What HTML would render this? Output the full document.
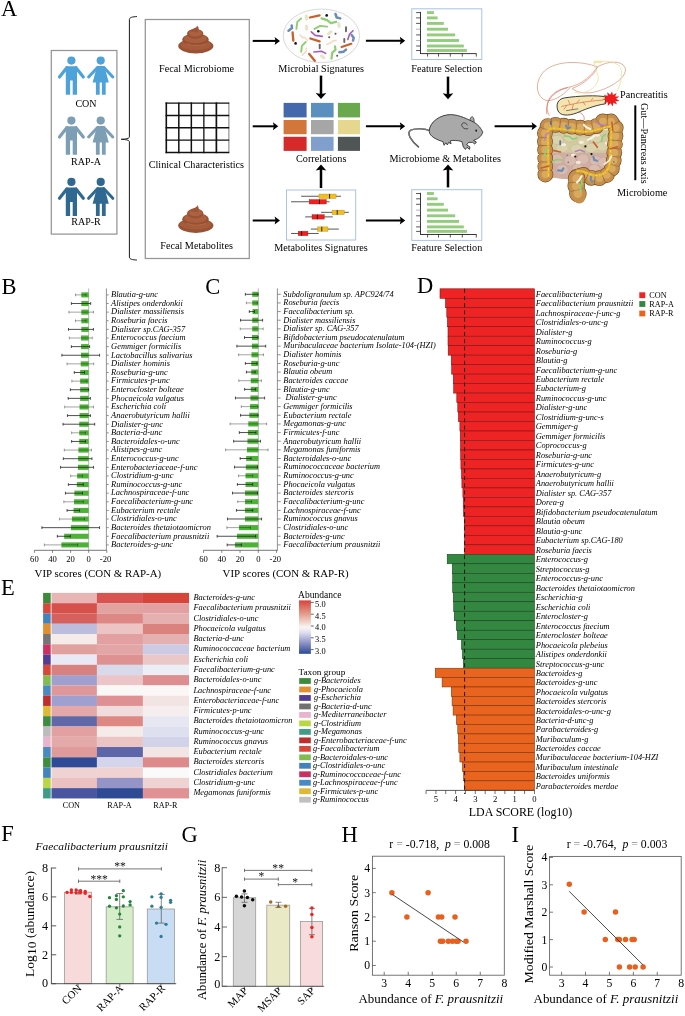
<!DOCTYPE html>
<html lang="en"><head><meta charset="utf-8"><title>Figure</title>
<style>html,body{margin:0;padding:0;background:#fff}svg{display:block;will-change:transform}text{font-family:"Liberation Serif","Times New Roman",serif}</style></head><body>
<svg width="685" height="1016" viewBox="0 0 685 1016">
<rect width="685" height="1016" fill="#fff"/>
<text x="1.10" y="15.80" font-size="22.5" text-anchor="start" fill="#000">A</text>
<rect x="51.30" y="50.50" width="65.60" height="183.60" fill="none" stroke="#959595" stroke-width="1.25"/>
<g fill="#4ea2da" stroke="#4ea2da">
<circle cx="71.4" cy="60.6" r="4.1" stroke="none"/>
<path d="M65.80000000000001,66.2 h11.2 v28.6 h-4.3 v-14.2 h-2.6 v14.2 h-4.3 Z" stroke="none"/>
<path d="M66.80000000000001,67.8 L59.50000000000001,77.0 M76.0,67.8 L83.30000000000001,77.0" fill="none" stroke-width="3.2" stroke-linecap="round"/>
</g>
<g fill="#4ea2da" stroke="#4ea2da">
<circle cx="100.7" cy="60.6" r="4.1" stroke="none"/>
<path d="M97.10000000000001,66.0 h7.2 L108.8,82.4 h-16.2 Z" stroke="none"/>
<path d="M95.9,81.6 h3.8 v13.2 h-3.8 Z M101.9,81.6 h3.8 v13.2 h-3.8 Z" stroke="none"/>
<path d="M97.5,67.4 L88.60000000000001,77.0 M103.9,67.4 L112.8,77.0" fill="none" stroke-width="3.0" stroke-linecap="round"/>
</g>
<text x="86.00" y="107.00" font-size="10" text-anchor="middle" fill="#000">CON</text>
<g fill="#7d9fb6" stroke="#7d9fb6">
<circle cx="71.4" cy="120.6" r="4.1" stroke="none"/>
<path d="M65.80000000000001,126.19999999999999 h11.2 v28.6 h-4.3 v-14.2 h-2.6 v14.2 h-4.3 Z" stroke="none"/>
<path d="M66.80000000000001,127.8 L59.50000000000001,137.0 M76.0,127.8 L83.30000000000001,137.0" fill="none" stroke-width="3.2" stroke-linecap="round"/>
</g>
<g fill="#7d9fb6" stroke="#7d9fb6">
<circle cx="100.7" cy="120.6" r="4.1" stroke="none"/>
<path d="M97.10000000000001,126.0 h7.2 L108.8,142.4 h-16.2 Z" stroke="none"/>
<path d="M95.9,141.6 h3.8 v13.2 h-3.8 Z M101.9,141.6 h3.8 v13.2 h-3.8 Z" stroke="none"/>
<path d="M97.5,127.39999999999999 L88.60000000000001,137.0 M103.9,127.39999999999999 L112.8,137.0" fill="none" stroke-width="3.0" stroke-linecap="round"/>
</g>
<text x="86.00" y="164.60" font-size="10" text-anchor="middle" fill="#000">RAP-A</text>
<g fill="#2f6991" stroke="#2f6991">
<circle cx="71.4" cy="181.9" r="4.1" stroke="none"/>
<path d="M65.80000000000001,187.5 h11.2 v28.6 h-4.3 v-14.2 h-2.6 v14.2 h-4.3 Z" stroke="none"/>
<path d="M66.80000000000001,189.1 L59.50000000000001,198.3 M76.0,189.1 L83.30000000000001,198.3" fill="none" stroke-width="3.2" stroke-linecap="round"/>
</g>
<g fill="#2f6991" stroke="#2f6991">
<circle cx="100.7" cy="181.9" r="4.1" stroke="none"/>
<path d="M97.10000000000001,187.3 h7.2 L108.8,203.70000000000002 h-16.2 Z" stroke="none"/>
<path d="M95.9,202.9 h3.8 v13.2 h-3.8 Z M101.9,202.9 h3.8 v13.2 h-3.8 Z" stroke="none"/>
<path d="M97.5,188.70000000000002 L88.60000000000001,198.3 M103.9,188.70000000000002 L112.8,198.3" fill="none" stroke-width="3.0" stroke-linecap="round"/>
</g>
<text x="86.00" y="225.40" font-size="10" text-anchor="middle" fill="#000">RAP-R</text>
<path d="M136.9,16.5 C132.5,16.9 129.4,17.2 129.4,19.6 L129.4,136.9 C129.4,138.6 125.5,139.1 121.2,139.3 C125.5,139.5 129.4,140 129.4,141.7 L129.4,257.0 C129.4,259.4 132.5,259.7 136.9,260.1" fill="none" stroke="#1a1a1a" stroke-width="1.0" stroke-linejoin="round"/>
<rect x="145.30" y="19.50" width="104.00" height="239.00" fill="none" stroke="#959595" stroke-width="1.25"/>
<g transform="translate(195.8,53.2)">
<ellipse cx="0" cy="-7.2" rx="17.6" ry="7.4" fill="#9a5234"/>
<ellipse cx="0" cy="-8.4" rx="15.5" ry="5.2" fill="#a65c3c"/>
<ellipse cx="-0.3" cy="-13.6" rx="13.2" ry="6.2" fill="#98502f"/>
<ellipse cx="-0.3" cy="-14.6" rx="11.6" ry="4.6" fill="#aa6040"/>
<ellipse cx="-0.6" cy="-19.3" rx="8.2" ry="5.0" fill="#9a5232"/>
<ellipse cx="-0.4" cy="-20.2" rx="6.6" ry="3.6" fill="#ac6242"/>
<path d="M-5.5,-21.5 C-4,-25.5 1.5,-24.5 1.2,-27.6 C3.2,-26.2 3.6,-22.5 1.8,-20.6 Z" fill="#9e5636"/>
<path d="M-9,-9.5 Q0,-5.8 10,-9.2" fill="none" stroke="#b87050" stroke-width="1.1" opacity=".7"/>
</g>
<text x="196.60" y="71.50" font-size="10.2" text-anchor="middle" fill="#000">Fecal Microbiome</text>
<line x1="166.30" y1="102.40" x2="166.30" y2="153.20" stroke="#111" stroke-width="1.6"/>
<line x1="178.82" y1="102.40" x2="178.82" y2="153.20" stroke="#111" stroke-width="1.5"/>
<line x1="191.34" y1="102.40" x2="191.34" y2="153.20" stroke="#111" stroke-width="1.5"/>
<line x1="203.86" y1="102.40" x2="203.86" y2="153.20" stroke="#111" stroke-width="1.3"/>
<line x1="216.38" y1="102.40" x2="216.38" y2="153.20" stroke="#111" stroke-width="1.7"/>
<line x1="228.90" y1="102.40" x2="228.90" y2="153.20" stroke="#444" stroke-width="0.7"/>
<line x1="165.60" y1="103.10" x2="229.20" y2="103.10" stroke="#111" stroke-width="1.4"/>
<line x1="165.60" y1="115.45" x2="229.20" y2="115.45" stroke="#111" stroke-width="1.4"/>
<line x1="165.60" y1="127.80" x2="229.20" y2="127.80" stroke="#111" stroke-width="1.4"/>
<line x1="165.60" y1="140.15" x2="229.20" y2="140.15" stroke="#111" stroke-width="1.4"/>
<line x1="165.60" y1="152.50" x2="229.20" y2="152.50" stroke="#111" stroke-width="1.4"/>
<text x="196.40" y="167.60" font-size="10.2" text-anchor="middle" fill="#000">Clinical Characteristics</text>
<g transform="translate(195.8,232.8)">
<ellipse cx="0" cy="-7.2" rx="17.6" ry="7.4" fill="#9a5234"/>
<ellipse cx="0" cy="-8.4" rx="15.5" ry="5.2" fill="#a65c3c"/>
<ellipse cx="-0.3" cy="-13.6" rx="13.2" ry="6.2" fill="#98502f"/>
<ellipse cx="-0.3" cy="-14.6" rx="11.6" ry="4.6" fill="#aa6040"/>
<ellipse cx="-0.6" cy="-19.3" rx="8.2" ry="5.0" fill="#9a5232"/>
<ellipse cx="-0.4" cy="-20.2" rx="6.6" ry="3.6" fill="#ac6242"/>
<path d="M-5.5,-21.5 C-4,-25.5 1.5,-24.5 1.2,-27.6 C3.2,-26.2 3.6,-22.5 1.8,-20.6 Z" fill="#9e5636"/>
<path d="M-9,-9.5 Q0,-5.8 10,-9.2" fill="none" stroke="#b87050" stroke-width="1.1" opacity=".7"/>
</g>
<text x="196.60" y="248.60" font-size="10.2" text-anchor="middle" fill="#000">Fecal Metabolites</text>
<line x1="252.70" y1="40.90" x2="277.00" y2="40.90" stroke="#000" stroke-width="2.0"/>
<path d="M280.00,40.90 L274.60,36.90 L275.60,40.90 L274.60,44.90 Z" fill="#000"/>
<line x1="252.70" y1="126.30" x2="275.30" y2="126.30" stroke="#000" stroke-width="2.0"/>
<path d="M278.30,126.30 L272.90,122.30 L273.90,126.30 L272.90,130.30 Z" fill="#000"/>
<line x1="252.70" y1="220.50" x2="277.00" y2="220.50" stroke="#000" stroke-width="2.0"/>
<path d="M280.00,220.50 L274.60,216.50 L275.60,220.50 L274.60,224.50 Z" fill="#000"/>
<ellipse cx="321.4" cy="35.8" rx="38.2" ry="26.8" fill="#fdfdfd" stroke="#cfcfcf" stroke-width="0.8"/>
<polyline points="309.9,17.5 319.6,15.4" fill="none" stroke="#c8602c" stroke-width="2.2" stroke-linecap="round" stroke-linejoin="round"/>
<polyline points="292.6,32.4 293.3,40.6" fill="none" stroke="#c8602c" stroke-width="2.3" stroke-linecap="round" stroke-linejoin="round"/>
<polyline points="310.4,38.5 319.6,41.3" fill="none" stroke="#c8602c" stroke-width="2.3" stroke-linecap="round" stroke-linejoin="round"/>
<polyline points="341.6,47.0 351.3,43.8" fill="none" stroke="#c8602c" stroke-width="2.2" stroke-linecap="round" stroke-linejoin="round"/>
<polyline points="309.2,54.0 314.8,60.8" fill="none" stroke="#c8602c" stroke-width="2.3" stroke-linecap="round" stroke-linejoin="round"/>
<polyline points="296.4,28.9 297.3,21.9 301.2,18.4" fill="none" stroke="#8fce74" stroke-width="1.9" stroke-linecap="round" stroke-linejoin="round"/>
<polyline points="321.5,18.4 327.1,20.1 330.9,23.1 336.2,21.9" fill="none" stroke="#8fce74" stroke-width="2.2" stroke-linecap="round" stroke-linejoin="round"/>
<polyline points="314.5,28.9 320.1,25.9 327.1,26.6" fill="none" stroke="#8fce74" stroke-width="1.9" stroke-linecap="round" stroke-linejoin="round"/>
<polyline points="301.2,51.7 301.9,45.9 305.7,42.0" fill="none" stroke="#8fce74" stroke-width="1.9" stroke-linecap="round" stroke-linejoin="round"/>
<polyline points="331.5,58.7 332.3,52.6 335.5,49.9 335.0,46.4" fill="none" stroke="#8fce74" stroke-width="2.2" stroke-linecap="round" stroke-linejoin="round"/>
<polyline points="311.3,31.9 315.2,35.4 322.2,36.4" fill="none" stroke="#a55cb8" stroke-width="1.6" stroke-linecap="round" stroke-linejoin="round"/>
<polyline points="347.8,39.4 349.5,34.2 353.0,30.7" fill="none" stroke="#a55cb8" stroke-width="1.6" stroke-linecap="round" stroke-linejoin="round"/>
<polyline points="313.9,52.0 321.5,51.2 325.7,53.4" fill="none" stroke="#a55cb8" stroke-width="1.6" stroke-linecap="round" stroke-linejoin="round"/>
<polyline points="288.5,30.7 292.0,28.0 291.7,25.4" fill="none" stroke="#6d8cb4" stroke-width="2.5" stroke-linecap="round" stroke-linejoin="round"/>
<polyline points="335.5,14.0 336.7,17.5 340.2,18.4" fill="none" stroke="#6d8cb4" stroke-width="2.5" stroke-linecap="round" stroke-linejoin="round"/>
<polyline points="351.6,35.0 353.7,37.7 353.0,40.6" fill="none" stroke="#6d8cb4" stroke-width="2.5" stroke-linecap="round" stroke-linejoin="round"/>
<polyline points="339.3,52.2 343.7,51.7 346.0,49.6" fill="none" stroke="#6d8cb4" stroke-width="2.5" stroke-linecap="round" stroke-linejoin="round"/>
<polyline points="299.9,35.0 302.6,37.7 304.3,37.1 307.5,40.6" fill="none" stroke="#f2d9bc" stroke-width="1.4" stroke-linecap="round" stroke-linejoin="round"/>
<polyline points="326.7,44.7 330.6,42.9 332.3,41.2 336.2,40.3" fill="none" stroke="#f2d9bc" stroke-width="1.4" stroke-linecap="round" stroke-linejoin="round"/>
<polyline points="302.2,55.2 305.7,51.7 306.4,48.2" fill="none" stroke="#f2d9bc" stroke-width="1.4" stroke-linecap="round" stroke-linejoin="round"/>
<polyline points="346.0,27.2 346.0,31.2" fill="none" stroke="#666" stroke-width="1.9" stroke-linecap="round" stroke-linejoin="round"/>
<polyline points="344.3,38.9 344.3,42.0" fill="none" stroke="#666" stroke-width="1.9" stroke-linecap="round" stroke-linejoin="round"/>
<polyline points="319.7,44.7 319.7,48.2" fill="none" stroke="#666" stroke-width="1.9" stroke-linecap="round" stroke-linejoin="round"/>
<circle cx="326.7" cy="15.4" r="1.3" fill="#111"/>
<circle cx="318.3" cy="31.2" r="1.3" fill="#111"/>
<circle cx="295.6" cy="43.4" r="1.3" fill="#111"/>
<circle cx="335.5" cy="33.8" r="1.0" fill="#555"/>
<circle cx="329.2" cy="37.3" r="1.0" fill="#555"/>
<circle cx="337.2" cy="55.7" r="1.0" fill="#555"/>
<ellipse cx="306.4" cy="17.5" rx="2.9" ry="1.3" fill="#ece4c8" stroke="#d8d0b0" stroke-width=".3" transform="rotate(85 306.4 17.5)"/>
<ellipse cx="306.6" cy="27.7" rx="2.9" ry="1.3" fill="#ece4c8" stroke="#d8d0b0" stroke-width=".3" transform="rotate(85 306.6 27.7)"/>
<ellipse cx="339.0" cy="24.9" rx="2.9" ry="1.3" fill="#ece4c8" stroke="#d8d0b0" stroke-width=".3" transform="rotate(80 339.0 24.9)"/>
<ellipse cx="329.7" cy="32.9" rx="2.9" ry="1.3" fill="#ece4c8" stroke="#d8d0b0" stroke-width=".3" transform="rotate(-35 329.7 32.9)"/>
<ellipse cx="322.7" cy="56.9" rx="2.9" ry="1.3" fill="#ece4c8" stroke="#d8d0b0" stroke-width=".3" transform="rotate(35 322.7 56.9)"/>
<text x="321.20" y="71.50" font-size="10.2" text-anchor="middle" fill="#000">Microbial Signatures</text>
<line x1="321.00" y1="75.60" x2="321.00" y2="96.00" stroke="#000" stroke-width="2.5"/>
<path d="M321.00,99.00 L315.70,93.00 L321.00,94.00 L326.30,93.00 Z" fill="#000"/>
<rect x="283.60" y="102.90" width="23.00" height="14.50" fill="#4468ab" stroke="none" stroke-width="1"/>
<rect x="311.00" y="102.90" width="22.60" height="14.50" fill="#5b8fbf" stroke="none" stroke-width="1"/>
<rect x="337.90" y="102.90" width="22.10" height="14.50" fill="#69a84c" stroke="none" stroke-width="1"/>
<rect x="283.60" y="120.00" width="23.00" height="14.20" fill="#d2763c" stroke="none" stroke-width="1"/>
<rect x="311.00" y="120.00" width="22.60" height="14.20" fill="#a6a6a6" stroke="none" stroke-width="1"/>
<rect x="337.90" y="120.00" width="22.10" height="14.20" fill="#e6d78f" stroke="none" stroke-width="1"/>
<rect x="283.60" y="136.80" width="23.00" height="14.10" fill="#d62a2a" stroke="none" stroke-width="1"/>
<rect x="311.00" y="136.80" width="22.60" height="14.10" fill="#809fcd" stroke="none" stroke-width="1"/>
<rect x="337.90" y="136.80" width="22.10" height="14.10" fill="#505656" stroke="none" stroke-width="1"/>
<text x="321.20" y="161.60" font-size="10.2" text-anchor="middle" fill="#000">Correlations</text>
<line x1="321.00" y1="188.00" x2="321.00" y2="167.60" stroke="#000" stroke-width="2.5"/>
<path d="M321.00,164.60 L315.70,170.60 L321.00,169.60 L326.30,170.60 Z" fill="#000"/>
<rect x="286.50" y="190.00" width="69.20" height="50.00" fill="#fff" stroke="#a9c3e6" stroke-width="1.0"/>
<line x1="301.13" y1="196.25" x2="340.95" y2="196.25" stroke="#222" stroke-width="0.75"/>
<rect x="319.01" y="194.05" width="17.06" height="4.40" fill="#f0c020" stroke="#b08a18" stroke-width="0.4"/>
<line x1="329.57" y1="193.95" x2="329.57" y2="198.55" stroke="#111" stroke-width="0.9"/>
<line x1="291.05" y1="201.78" x2="329.57" y2="201.78" stroke="#222" stroke-width="0.75"/>
<rect x="309.25" y="199.58" width="17.06" height="4.40" fill="#f02020" stroke="#b01818" stroke-width="0.4"/>
<line x1="319.49" y1="199.48" x2="319.49" y2="204.08" stroke="#111" stroke-width="0.9"/>
<line x1="321.12" y1="212.34" x2="348.75" y2="212.34" stroke="#222" stroke-width="0.75"/>
<rect x="332.01" y="210.14" width="12.19" height="4.40" fill="#f0c020" stroke="#b08a18" stroke-width="0.4"/>
<line x1="337.21" y1="210.04" x2="337.21" y2="214.64" stroke="#111" stroke-width="0.9"/>
<line x1="305.19" y1="216.89" x2="332.82" y2="216.89" stroke="#222" stroke-width="0.75"/>
<rect x="312.02" y="214.69" width="12.19" height="4.40" fill="#f02020" stroke="#b01818" stroke-width="0.4"/>
<line x1="317.38" y1="214.59" x2="317.38" y2="219.19" stroke="#111" stroke-width="0.9"/>
<line x1="310.88" y1="229.08" x2="338.83" y2="229.08" stroke="#222" stroke-width="0.75"/>
<rect x="317.71" y="226.88" width="10.24" height="4.40" fill="#f0c020" stroke="#b08a18" stroke-width="0.4"/>
<line x1="321.77" y1="226.78" x2="321.77" y2="231.38" stroke="#111" stroke-width="0.9"/>
<line x1="291.05" y1="233.47" x2="318.68" y2="233.47" stroke="#222" stroke-width="0.75"/>
<rect x="298.20" y="231.27" width="9.75" height="4.40" fill="#f02020" stroke="#b01818" stroke-width="0.4"/>
<line x1="301.62" y1="231.17" x2="301.62" y2="235.77" stroke="#111" stroke-width="0.9"/>
<text x="321.00" y="251.20" font-size="10.2" text-anchor="middle" fill="#000">Metabolites Signatures</text>
<line x1="365.90" y1="40.80" x2="402.20" y2="40.80" stroke="#000" stroke-width="2.0"/>
<path d="M405.20,40.80 L399.80,36.80 L400.80,40.80 L399.80,44.80 Z" fill="#000"/>
<line x1="365.90" y1="126.30" x2="402.20" y2="126.30" stroke="#000" stroke-width="2.0"/>
<path d="M405.20,126.30 L399.80,122.30 L400.80,126.30 L399.80,130.30 Z" fill="#000"/>
<line x1="365.90" y1="220.60" x2="402.20" y2="220.60" stroke="#000" stroke-width="2.0"/>
<path d="M405.20,220.60 L399.80,216.60 L400.80,220.60 L399.80,224.60 Z" fill="#000"/>
<rect x="411.80" y="8.80" width="70.00" height="50.70" fill="#fff" stroke="#a9c3e6" stroke-width="1.0"/>
<line x1="420.50" y1="11.90" x2="420.50" y2="54.00" stroke="#222" stroke-width="0.9"/>
<line x1="420.50" y1="53.60" x2="476.60" y2="53.60" stroke="#222" stroke-width="0.9"/>
<rect x="427.00" y="11.15" width="6.90" height="2.90" fill="#93cc7c" stroke="none" stroke-width="1"/>
<line x1="416.10" y1="12.60" x2="420.50" y2="12.60" stroke="#222" stroke-width="0.75"/>
<rect x="427.00" y="16.45" width="10.60" height="2.90" fill="#93cc7c" stroke="none" stroke-width="1"/>
<line x1="416.10" y1="17.90" x2="420.50" y2="17.90" stroke="#222" stroke-width="0.75"/>
<rect x="427.00" y="21.95" width="16.80" height="2.90" fill="#93cc7c" stroke="none" stroke-width="1"/>
<line x1="416.10" y1="23.40" x2="420.50" y2="23.40" stroke="#222" stroke-width="0.75"/>
<rect x="427.00" y="27.75" width="21.00" height="2.90" fill="#93cc7c" stroke="none" stroke-width="1"/>
<line x1="416.10" y1="29.20" x2="420.50" y2="29.20" stroke="#999" stroke-width="0.75"/>
<rect x="427.00" y="33.45" width="28.20" height="2.90" fill="#93cc7c" stroke="none" stroke-width="1"/>
<line x1="416.10" y1="34.90" x2="420.50" y2="34.90" stroke="#222" stroke-width="0.75"/>
<rect x="427.00" y="39.05" width="32.00" height="2.90" fill="#93cc7c" stroke="none" stroke-width="1"/>
<line x1="416.10" y1="40.50" x2="420.50" y2="40.50" stroke="#999" stroke-width="0.75"/>
<rect x="427.00" y="44.55" width="36.80" height="2.90" fill="#93cc7c" stroke="none" stroke-width="1"/>
<line x1="416.10" y1="46.00" x2="420.50" y2="46.00" stroke="#222" stroke-width="0.75"/>
<rect x="427.00" y="49.05" width="39.90" height="2.90" fill="#93cc7c" stroke="none" stroke-width="1"/>
<line x1="416.10" y1="50.50" x2="420.50" y2="50.50" stroke="#222" stroke-width="0.75"/>
<line x1="427.60" y1="53.60" x2="427.60" y2="56.60" stroke="#222" stroke-width="0.75"/>
<line x1="438.50" y1="53.60" x2="438.50" y2="56.60" stroke="#222" stroke-width="0.75"/>
<line x1="450.30" y1="53.60" x2="450.30" y2="56.60" stroke="#222" stroke-width="0.75"/>
<line x1="462.30" y1="53.60" x2="462.30" y2="56.60" stroke="#222" stroke-width="0.75"/>
<line x1="476.30" y1="53.60" x2="476.30" y2="56.60" stroke="#222" stroke-width="0.75"/>
<text x="446.80" y="71.50" font-size="10.2" text-anchor="middle" fill="#000">Feature Selection</text>
<line x1="448.00" y1="76.60" x2="448.00" y2="96.20" stroke="#000" stroke-width="2.5"/>
<path d="M448.00,99.20 L442.70,93.20 L448.00,94.20 L453.30,93.20 Z" fill="#000"/>
<path d="M429.8,130.6 C424.1,128.5 415.9,127.7 410.8,130.2 C405.7,133.2 411.8,141.4 418.4,146.9" fill="none" stroke="#333" stroke-width="1.5" stroke-linecap="round"/>
<path d="M429.8,130.6 C424.1,128.5 415.9,127.7 410.8,130.2 C405.7,133.2 411.8,141.4 418.4,146.9" fill="none" stroke="#bdbdbd" stroke-width="0.6" stroke-linecap="round"/>
<path d="M469.7,122.0 C469.7,118.9 471.1,116.3 472.3,116.7 C474.0,117.5 474.4,120.4 474.0,122.8 Z" fill="#a9a9a9" stroke="#222" stroke-width=".7"/>
<path d="M482.7,132.2 C481.3,128.5 478.2,124.4 473.5,122.0 C468.0,119.5 459.9,114.8 450.7,114.6 C440.4,114.6 429.2,122.0 429.2,131.4 C429.6,136.7 437.4,140.0 442.9,141.6 L444.1,145.3 L445.8,142.8 L447.4,144.9 L448.6,142.4 L451.1,143.7 L450.2,140.8 C453.7,140.0 457.8,140.4 461.9,141.6 L463.3,146.9 L465.4,149.4 L467.0,147.3 L469.5,149.4 L469.9,146.9 L466.6,144.9 L468.6,142.4 L472.7,142.4 L474.8,144.1 L476.4,142.0 L473.5,140.4 C477.2,139.2 481.7,136.7 482.7,132.2 Z" fill="#a9a9a9" stroke="#222" stroke-width=".8" stroke-linejoin="round"/>
<path d="M468.2,128.5 C465.4,129.8 461.7,127.7 461.7,124.9 C462.1,122.0 465.8,122.0 467.4,125.3" fill="#a9a9a9" stroke="#222" stroke-width=".7"/>
<ellipse cx="476.2" cy="130.6" rx="0.9" ry="1.2" fill="#222"/>
<text x="445.20" y="162.00" font-size="10.2" text-anchor="middle" fill="#000">Microbiome &amp; Metabolites</text>
<line x1="448.00" y1="187.40" x2="448.00" y2="167.50" stroke="#000" stroke-width="2.5"/>
<path d="M448.00,164.50 L442.70,170.50 L448.00,169.50 L453.30,170.50 Z" fill="#000"/>
<rect x="411.80" y="189.70" width="70.00" height="50.70" fill="#fff" stroke="#a9c3e6" stroke-width="1.0"/>
<line x1="420.50" y1="192.80" x2="420.50" y2="234.90" stroke="#222" stroke-width="0.9"/>
<line x1="420.50" y1="234.50" x2="476.60" y2="234.50" stroke="#222" stroke-width="0.9"/>
<rect x="427.00" y="192.05" width="6.90" height="2.90" fill="#93cc7c" stroke="none" stroke-width="1"/>
<line x1="416.10" y1="193.50" x2="420.50" y2="193.50" stroke="#222" stroke-width="0.75"/>
<rect x="427.00" y="197.35" width="10.60" height="2.90" fill="#93cc7c" stroke="none" stroke-width="1"/>
<line x1="416.10" y1="198.80" x2="420.50" y2="198.80" stroke="#222" stroke-width="0.75"/>
<rect x="427.00" y="202.85" width="16.80" height="2.90" fill="#93cc7c" stroke="none" stroke-width="1"/>
<line x1="416.10" y1="204.30" x2="420.50" y2="204.30" stroke="#222" stroke-width="0.75"/>
<rect x="427.00" y="208.65" width="21.00" height="2.90" fill="#93cc7c" stroke="none" stroke-width="1"/>
<line x1="416.10" y1="210.10" x2="420.50" y2="210.10" stroke="#999" stroke-width="0.75"/>
<rect x="427.00" y="214.35" width="28.20" height="2.90" fill="#93cc7c" stroke="none" stroke-width="1"/>
<line x1="416.10" y1="215.80" x2="420.50" y2="215.80" stroke="#222" stroke-width="0.75"/>
<rect x="427.00" y="219.95" width="32.00" height="2.90" fill="#93cc7c" stroke="none" stroke-width="1"/>
<line x1="416.10" y1="221.40" x2="420.50" y2="221.40" stroke="#999" stroke-width="0.75"/>
<rect x="427.00" y="225.45" width="36.80" height="2.90" fill="#93cc7c" stroke="none" stroke-width="1"/>
<line x1="416.10" y1="226.90" x2="420.50" y2="226.90" stroke="#222" stroke-width="0.75"/>
<rect x="427.00" y="229.95" width="39.90" height="2.90" fill="#93cc7c" stroke="none" stroke-width="1"/>
<line x1="416.10" y1="231.40" x2="420.50" y2="231.40" stroke="#222" stroke-width="0.75"/>
<line x1="427.60" y1="234.50" x2="427.60" y2="237.50" stroke="#222" stroke-width="0.75"/>
<line x1="438.50" y1="234.50" x2="438.50" y2="237.50" stroke="#222" stroke-width="0.75"/>
<line x1="450.30" y1="234.50" x2="450.30" y2="237.50" stroke="#222" stroke-width="0.75"/>
<line x1="462.30" y1="234.50" x2="462.30" y2="237.50" stroke="#222" stroke-width="0.75"/>
<line x1="476.30" y1="234.50" x2="476.30" y2="237.50" stroke="#222" stroke-width="0.75"/>
<text x="446.80" y="251.20" font-size="10.2" text-anchor="middle" fill="#000">Feature Selection</text>
<line x1="494.60" y1="126.20" x2="534.00" y2="126.20" stroke="#000" stroke-width="2.0"/>
<path d="M537.00,126.20 L531.60,122.20 L532.60,126.20 L531.60,130.20 Z" fill="#000"/>
<path d="M549.3,115.8 C542.8,103.0 550.9,90.1 568.5,87.3 C583.0,84.5 592.6,74.1 597.4,66.9 C583.0,61.2 557.3,59.6 544.5,70.9 C533.2,82.1 536.4,98.2 546.9,100.6 C555.7,101.4 566.9,91.8 570.1,87.3" fill="none" stroke="#d9957a" stroke-width=".75"/>
<path d="M597.4,66.9 C607.1,61.2 621.5,59.6 625.1,67.7 C628.0,77.3 610.3,88.5 594.2,92.1 C584.6,94.2 576.6,92.1 572.1,88.5 C583.0,84.5 594.2,75.7 597.4,66.9 Z" fill="none" stroke="#d9957a" stroke-width=".75"/>
<path d="M594.2,62.5 C593.4,69.3 600.7,74.1 597.4,82.1 C594.2,90.1 583.0,95.0 574.2,92.1 M594.2,62.5 C605.5,59.6 619.9,61.2 621.5,70.9 C622.3,78.9 619.9,85.3 616.7,92.1" fill="none" stroke="#ecdc94" stroke-width=".75"/>
<path d="M593.9,60.9 h8 v2 h-8 Z" fill="#f3e9b5" stroke="#e8d990" stroke-width=".3"/>
<path d="M546.9,114.2 C545.3,103.0 550.9,91.8 567.7,87.7 M578.2,111.8 C584.6,114.2 585.4,119.1 583.0,121.5" fill="none" stroke="#d9534a" stroke-width=".6"/>
<path d="M547.7,129.5 L612.2,129.5 L612.2,154.4 L547.7,154.4 Z" fill="#d2caa2"/>
<path d="M547.7,152.8 L611.9,152.8 L611.9,176.9 C594.2,179.3 570.1,180.9 547.7,176.9 Z" fill="#cfaea3"/>
<ellipse cx="557.3" cy="139.9" rx="6.2" ry="4.6" fill="#d9d2ad" stroke="#b9b083" stroke-width=".35"/>
<ellipse cx="570.1" cy="137.5" rx="6.2" ry="4.6" fill="#d9d2ad" stroke="#b9b083" stroke-width=".35"/>
<ellipse cx="583.0" cy="141.5" rx="6.2" ry="4.6" fill="#d9d2ad" stroke="#b9b083" stroke-width=".35"/>
<ellipse cx="595.8" cy="138.3" rx="6.2" ry="4.6" fill="#d9d2ad" stroke="#b9b083" stroke-width=".35"/>
<ellipse cx="562.1" cy="148.0" rx="6.2" ry="4.6" fill="#d9d2ad" stroke="#b9b083" stroke-width=".35"/>
<ellipse cx="576.6" cy="148.8" rx="6.2" ry="4.6" fill="#d9d2ad" stroke="#b9b083" stroke-width=".35"/>
<ellipse cx="591.0" cy="148.0" rx="6.2" ry="4.6" fill="#d9d2ad" stroke="#b9b083" stroke-width=".35"/>
<ellipse cx="602.3" cy="146.4" rx="6.2" ry="4.6" fill="#d9d2ad" stroke="#b9b083" stroke-width=".35"/>
<ellipse cx="557.3" cy="159.2" rx="6.0" ry="5.2" fill="#d9bbb0" stroke="#b89a90" stroke-width=".35"/>
<ellipse cx="570.1" cy="160.8" rx="6.0" ry="5.2" fill="#d9bbb0" stroke="#b89a90" stroke-width=".35"/>
<ellipse cx="583.0" cy="159.2" rx="6.0" ry="5.2" fill="#d9bbb0" stroke="#b89a90" stroke-width=".35"/>
<ellipse cx="595.8" cy="160.8" rx="6.0" ry="5.2" fill="#d9bbb0" stroke="#b89a90" stroke-width=".35"/>
<ellipse cx="562.1" cy="169.6" rx="6.0" ry="5.2" fill="#d9bbb0" stroke="#b89a90" stroke-width=".35"/>
<ellipse cx="578.2" cy="168.8" rx="6.0" ry="5.2" fill="#d9bbb0" stroke="#b89a90" stroke-width=".35"/>
<ellipse cx="594.2" cy="169.6" rx="6.0" ry="5.2" fill="#d9bbb0" stroke="#b89a90" stroke-width=".35"/>
<ellipse cx="603.9" cy="162.4" rx="6.0" ry="5.2" fill="#d9bbb0" stroke="#b89a90" stroke-width=".35"/>
<ellipse cx="563.7" cy="144.7" rx="2.6" ry="1.6" fill="#f8f2e0" opacity=".85"/>
<ellipse cx="581.4" cy="142.3" rx="2.6" ry="1.6" fill="#f8f2e0" opacity=".85"/>
<ellipse cx="607.1" cy="143.1" rx="2.6" ry="1.6" fill="#f8f2e0" opacity=".85"/>
<ellipse cx="597.4" cy="135.1" rx="2.6" ry="1.6" fill="#f8f2e0" opacity=".85"/>
<ellipse cx="573.4" cy="155.2" rx="2.6" ry="1.6" fill="#f8f2e0" opacity=".85"/>
<ellipse cx="578.2" cy="162.4" rx="2.6" ry="1.6" fill="#f8f2e0" opacity=".85"/>
<path d="M545.4,174.5 L544.9,134.3 C544.6,125.5 548.9,123.9 557.3,125.0 L583.0,128.0 C592.6,128.9 597.4,126.1 601.0,122.6 C605.8,118.7 616.2,120.3 615.9,130.3 L613.7,160.8 C612.9,172.4 605.8,177.7 597.4,178.5 C589.4,179.3 583.3,172.9 578.5,174.5 C574.0,177.2 576.6,188.1 579.1,196.9" fill="none" stroke="#7a4c20" stroke-width="15.8" stroke-linecap="round" stroke-linejoin="round" stroke-dasharray="0 8.2"/>
<path d="M545.4,174.5 L544.9,134.3 C544.6,125.5 548.9,123.9 557.3,125.0 L583.0,128.0 C592.6,128.9 597.4,126.1 601.0,122.6 C605.8,118.7 616.2,120.3 615.9,130.3 L613.7,160.8 C612.9,172.4 605.8,177.7 597.4,178.5 C589.4,179.3 583.3,172.9 578.5,174.5 C574.0,177.2 576.6,188.1 579.1,196.9" fill="none" stroke="#7a4c20" stroke-width="12.2" stroke-linecap="round" stroke-linejoin="round"/>
<path d="M545.4,174.5 L544.9,134.3 C544.6,125.5 548.9,123.9 557.3,125.0 L583.0,128.0 C592.6,128.9 597.4,126.1 601.0,122.6 C605.8,118.7 616.2,120.3 615.9,130.3 L613.7,160.8 C612.9,172.4 605.8,177.7 597.4,178.5 C589.4,179.3 583.3,172.9 578.5,174.5 C574.0,177.2 576.6,188.1 579.1,196.9" fill="none" stroke="#c5904c" stroke-width="14.5" stroke-linecap="round" stroke-linejoin="round" stroke-dasharray="0 8.2"/>
<path d="M545.4,174.5 L544.9,134.3 C544.6,125.5 548.9,123.9 557.3,125.0 L583.0,128.0 C592.6,128.9 597.4,126.1 601.0,122.6 C605.8,118.7 616.2,120.3 615.9,130.3 L613.7,160.8 C612.9,172.4 605.8,177.7 597.4,178.5 C589.4,179.3 583.3,172.9 578.5,174.5 C574.0,177.2 576.6,188.1 579.1,196.9" fill="none" stroke="#c5904c" stroke-width="11.0" stroke-linecap="round" stroke-linejoin="round"/>
<path d="M545.4,174.5 L544.9,134.3 C544.6,125.5 548.9,123.9 557.3,125.0 L583.0,128.0 C592.6,128.9 597.4,126.1 601.0,122.6 C605.8,118.7 616.2,120.3 615.9,130.3 L613.7,160.8 C612.9,172.4 605.8,177.7 597.4,178.5 C589.4,179.3 583.3,172.9 578.5,174.5 C574.0,177.2 576.6,188.1 579.1,196.9" fill="none" stroke="#dcae64" stroke-width="7.6" stroke-linecap="round" stroke-linejoin="round" stroke-dasharray="0 8.2" opacity=".85"/>
<path d="M545.4,174.5 L544.9,134.3 C544.6,125.5 548.9,123.9 557.3,125.0 L583.0,128.0 C592.6,128.9 597.4,126.1 601.0,122.6 C605.8,118.7 616.2,120.3 615.9,130.3 L613.7,160.8 C612.9,172.4 605.8,177.7 597.4,178.5 C589.4,179.3 583.3,172.9 578.5,174.5 C574.0,177.2 576.6,188.1 579.1,196.9" fill="none" stroke="#8a5a2a" stroke-width="13.4" stroke-dasharray="0.55 7.65" stroke-dashoffset="-4.1" stroke-linejoin="round" opacity=".75"/>
<path d="M576.6,178.5 C575.3,184.9 576.9,191.3 579.1,196.9" fill="none" stroke="#7a4c20" stroke-width="17.6" stroke-linecap="round" stroke-dasharray="0 7.6"/>
<path d="M576.6,178.5 C575.3,184.9 576.9,191.3 579.1,196.9" fill="none" stroke="#c5904c" stroke-width="16.3" stroke-linecap="round" stroke-dasharray="0 7.6"/>
<path d="M576.6,178.5 C575.3,184.9 576.9,191.3 579.1,196.9" fill="none" stroke="#c5904c" stroke-width="13" stroke-linecap="round"/>
<path d="M576.6,178.5 C575.3,184.9 576.9,191.3 579.1,196.9" fill="none" stroke="#dcae64" stroke-width="8.8" stroke-linecap="round" stroke-dasharray="0 7.6" opacity=".85"/>
<path d="M576.6,178.5 C575.3,184.9 576.9,191.3 579.1,196.9" fill="none" stroke="#8a5a2a" stroke-width="15.4" stroke-dasharray="0.5 7.1" stroke-dashoffset="-3.8" opacity=".6"/>
<path d="M548.6,176.9 L548.0,134.3 C547.7,128.4 550.1,127.7 557.3,128.7 L583.0,131.6 C594.2,132.5 599.1,128.0 611.6,126.1 L610.0,160.8 C609.2,170.8 604.2,174.6 597.4,175.4 C589.4,176.2 583.0,169.0 575.8,171.2" fill="none" stroke="#e8bc28" stroke-width="2.6" stroke-linejoin="round" opacity=".8"/>
<path d="M548.6,176.9 L548.0,134.3 C547.7,128.4 550.1,127.7 557.3,128.7 L583.0,131.6 C594.2,132.5 599.1,128.0 611.6,126.1 L610.0,160.8 C609.2,170.8 604.2,174.6 597.4,175.4 C589.4,176.2 583.0,169.0 575.8,171.2" fill="none" stroke="#f3d94e" stroke-width="1.0" stroke-linejoin="round" opacity=".9" stroke-dasharray="3 1.4 1.2 0.8"/>
<path d="M548.6,176.9 L548.0,134.3 C547.7,128.4 550.1,127.7 557.3,128.7 L583.0,131.6 C594.2,132.5 599.1,128.0 611.6,126.1 L610.0,160.8 C609.2,170.8 604.2,174.6 597.4,175.4 C589.4,176.2 583.0,169.0 575.8,171.2" fill="none" stroke="#d98a1e" stroke-width="0.5" stroke-linejoin="round" opacity=".7" stroke-dasharray="1.2 3.4"/>
<polyline points="593.4,141.9 597.4,147.2" fill="none" stroke="#c8602c" stroke-width="1.6" stroke-linecap="round" stroke-linejoin="round"/>
<polyline points="552.8,150.4 560.5,152.0" fill="none" stroke="#c8602c" stroke-width="1.6" stroke-linecap="round" stroke-linejoin="round"/>
<polyline points="541.2,168.0 548.9,165.9" fill="none" stroke="#c8602c" stroke-width="1.6" stroke-linecap="round" stroke-linejoin="round"/>
<polyline points="611.9,122.3 612.7,130.3" fill="none" stroke="#c8602c" stroke-width="1.6" stroke-linecap="round" stroke-linejoin="round"/>
<polyline points="610.3,148.8 617.5,146.8" fill="none" stroke="#c8602c" stroke-width="1.6" stroke-linecap="round" stroke-linejoin="round"/>
<polyline points="564.5,135.9 570.1,136.7 572.1,139.1 576.6,138.0" fill="none" stroke="#8fce74" stroke-width="1.6" stroke-linecap="round" stroke-linejoin="round"/>
<polyline points="601.5,141.5 602.6,136.7 605.5,134.3" fill="none" stroke="#8fce74" stroke-width="1.6" stroke-linecap="round" stroke-linejoin="round"/>
<polyline points="544.8,156.8 545.3,151.2 548.0,148.0" fill="none" stroke="#8fce74" stroke-width="1.6" stroke-linecap="round" stroke-linejoin="round"/>
<polyline points="552.5,161.6 556.5,159.5 562.1,160.0" fill="none" stroke="#8fce74" stroke-width="1.6" stroke-linecap="round" stroke-linejoin="round"/>
<polyline points="581.1,191.3 580.1,186.5 582.2,184.1 581.4,180.4" fill="none" stroke="#8fce74" stroke-width="1.9" stroke-linecap="round" stroke-linejoin="round"/>
<polyline points="544.8,139.9 545.7,135.1 548.9,132.2" fill="none" stroke="#b57cc8" stroke-width="1.4" stroke-linecap="round" stroke-linejoin="round"/>
<polyline points="595.8,122.3 599.9,124.7 605.2,125.2" fill="none" stroke="#b57cc8" stroke-width="1.4" stroke-linecap="round" stroke-linejoin="round"/>
<polyline points="575.3,151.5 580.1,149.9 584.6,152.0" fill="none" stroke="#b57cc8" stroke-width="1.4" stroke-linecap="round" stroke-linejoin="round"/>
<polyline points="566.1,125.5 567.3,128.7 570.1,127.4" fill="none" stroke="#6d8cb4" stroke-width="2.2" stroke-linecap="round" stroke-linejoin="round"/>
<polyline points="593.4,156.8 594.2,160.0 597.1,160.8" fill="none" stroke="#6d8cb4" stroke-width="2.2" stroke-linecap="round" stroke-linejoin="round"/>
<polyline points="558.1,170.4 561.8,170.8 563.4,168.5" fill="none" stroke="#6d8cb4" stroke-width="2.2" stroke-linecap="round" stroke-linejoin="round"/>
<polyline points="591.0,176.9 590.7,179.8 592.6,181.4" fill="none" stroke="#6d8cb4" stroke-width="2.2" stroke-linecap="round" stroke-linejoin="round"/>
<polyline points="583.8,124.7 586.5,127.4 590.2,129.0" fill="none" stroke="#f8f4ea" stroke-width="2.0" stroke-linecap="round" stroke-linejoin="round"/>
<polyline points="587.8,139.9 591.8,138.0 594.2,135.9" fill="none" stroke="#f8f4ea" stroke-width="2.0" stroke-linecap="round" stroke-linejoin="round"/>
<polyline points="576.9,182.5 579.8,179.3 581.7,176.1" fill="none" stroke="#f8f4ea" stroke-width="2.0" stroke-linecap="round" stroke-linejoin="round"/>
<polyline points="604.2,164.3 609.0,160.8 611.6,156.0" fill="none" stroke="#f8f4ea" stroke-width="1.6" stroke-linecap="round" stroke-linejoin="round"/>
<polyline points="550.9,121.5 550.9,124.2" fill="none" stroke="#5d7091" stroke-width="1.7" stroke-linecap="round" stroke-linejoin="round"/>
<polyline points="560.2,141.2 560.2,144.4" fill="none" stroke="#5d7091" stroke-width="1.7" stroke-linecap="round" stroke-linejoin="round"/>
<circle cx="585.4" cy="146.4" r="1.1" fill="#111"/>
<circle cx="591.5" cy="154.1" r="1.1" fill="#111"/>
<circle cx="575.3" cy="156.5" r="1.1" fill="#111"/>
<circle cx="567.3" cy="155.2" r="0.8" fill="#667799"/>
<circle cx="568.2" cy="162.4" r="0.8" fill="#667799"/>
<circle cx="613.8" cy="161.9" r="0.8" fill="#667799"/>
<path d="M605.5,96.9 C597.4,95.0 578.2,95.8 564.5,97.9 C557.3,99.0 555.7,105.4 558.1,111.0 C560.5,115.8 567.7,116.2 576.6,113.0 C583.0,110.2 594.2,105.4 605.5,103.8 Z" fill="#f4e5ae" stroke="#2a2a2a" stroke-width=".9"/>
<path d="M561.3,106.5 C570.1,104.6 583.0,101.4 603.1,100.1 M570.1,104.6 L568.2,100.1 M576.6,103.0 L579.8,99.5 M583.0,101.7 L585.4,105.4 M591.0,100.7 L593.0,97.9 M573.4,104.0 L572.1,109.7 M566.9,105.2 L563.7,109.7" fill="none" stroke="#e04030" stroke-width=".55"/>
<path d="M566.1,110.7 L578.2,108.8" fill="none" stroke="#333" stroke-width=".6"/>
<polygon points="619.6,100.9 615.4,101.2 617.1,104.5 613.4,102.8 612.7,106.4 610.6,103.3 607.7,106.0 607.9,102.3 603.9,103.3 606.3,100.3 602.3,99.2 606.2,97.9 603.5,95.1 607.7,95.8 607.2,92.2 610.2,94.7 612.0,91.5 613.0,95.0 616.6,93.1 615.2,96.5 619.5,96.6 616.1,98.8" fill="#ee1c1c"/>
<text x="620.10" y="98.40" font-size="10.2" text-anchor="start" fill="#000">Pancreatitis</text>
<rect x="634.30" y="105.40" width="2.00" height="74.80" fill="#000" stroke="none" stroke-width="1"/>
<text transform="translate(641.2,103.0) rotate(90)" font-size="10.2" fill="#000">Gut—Pancreas axis</text>
<text x="617.00" y="195.60" font-size="10.2" text-anchor="start" fill="#000">Microbiome</text>
<text x="1.40" y="293.80" font-size="22.5" text-anchor="start" fill="#000">B</text>
<line x1="88.70" y1="288.40" x2="88.70" y2="550.30" stroke="#a4a4a4" stroke-width="0.8"/>
<rect x="81.31" y="292.35" width="7.39" height="5.10" fill="#4db336" stroke="none" stroke-width="1"/>
<path d="M75.47,294.90 H85.99 M75.47,293.50 v2.8 M85.99,293.50 v2.8" fill="none" stroke="#000" stroke-width="0.8" opacity=".46"/>
<line x1="106.40" y1="294.90" x2="108.70" y2="294.90" stroke="#444" stroke-width="0.6"/>
<text x="111.10" y="297.20" font-size="8.45" text-anchor="start" font-style="italic" fill="#000" xml:space="preserve">Blautia-g-unc</text>
<rect x="81.31" y="300.97" width="7.39" height="5.10" fill="#4db336" stroke="none" stroke-width="1"/>
<path d="M71.39,303.52 H90.66 M71.39,302.12 v2.8 M90.66,302.12 v2.8" fill="none" stroke="#222" stroke-width="0.8"/>
<line x1="106.40" y1="303.52" x2="108.70" y2="303.52" stroke="#444" stroke-width="0.6"/>
<text x="111.10" y="305.82" font-size="8.45" text-anchor="start" font-style="italic" fill="#000" xml:space="preserve">Alistipes onderdonkii</text>
<rect x="81.31" y="309.59" width="7.39" height="5.10" fill="#4db336" stroke="none" stroke-width="1"/>
<path d="M68.91,312.14 H93.43 M68.91,310.74 v2.8 M93.43,310.74 v2.8" fill="none" stroke="#000" stroke-width="0.8" opacity=".46"/>
<line x1="106.40" y1="312.14" x2="108.70" y2="312.14" stroke="#444" stroke-width="0.6"/>
<text x="111.10" y="314.44" font-size="8.45" text-anchor="start" font-style="italic" fill="#000" xml:space="preserve">Dialister massiliensis</text>
<rect x="81.31" y="318.21" width="7.39" height="5.10" fill="#4db336" stroke="none" stroke-width="1"/>
<path d="M75.47,320.76 H85.99 M75.47,319.36 v2.8 M85.99,319.36 v2.8" fill="none" stroke="#000" stroke-width="0.8" opacity=".46"/>
<line x1="106.40" y1="320.76" x2="108.70" y2="320.76" stroke="#444" stroke-width="0.6"/>
<text x="111.10" y="323.06" font-size="8.45" text-anchor="start" font-style="italic" fill="#000" xml:space="preserve">Roseburia faecis</text>
<rect x="81.31" y="326.83" width="7.39" height="5.10" fill="#4db336" stroke="none" stroke-width="1"/>
<path d="M68.47,329.38 H93.43 M68.47,327.98 v2.8 M93.43,327.98 v2.8" fill="none" stroke="#222" stroke-width="0.8"/>
<line x1="106.40" y1="329.38" x2="108.70" y2="329.38" stroke="#444" stroke-width="0.6"/>
<text x="111.10" y="331.68" font-size="8.45" text-anchor="start" font-style="italic" fill="#000" xml:space="preserve">Dialister sp.CAG-357</text>
<rect x="81.02" y="335.45" width="7.68" height="5.10" fill="#4db336" stroke="none" stroke-width="1"/>
<path d="M69.34,338.00 H92.26 M69.34,336.60 v2.8 M92.26,336.60 v2.8" fill="none" stroke="#000" stroke-width="0.8" opacity=".46"/>
<line x1="106.40" y1="338.00" x2="108.70" y2="338.00" stroke="#444" stroke-width="0.6"/>
<text x="111.10" y="340.30" font-size="8.45" text-anchor="start" font-style="italic" fill="#000" xml:space="preserve">Enterococcus faecium</text>
<rect x="81.02" y="344.07" width="7.68" height="5.10" fill="#4db336" stroke="none" stroke-width="1"/>
<path d="M71.39,346.62 H89.64 M71.39,345.22 v2.8 M89.64,345.22 v2.8" fill="none" stroke="#222" stroke-width="0.8"/>
<line x1="106.40" y1="346.62" x2="108.70" y2="346.62" stroke="#444" stroke-width="0.6"/>
<text x="111.10" y="348.92" font-size="8.45" text-anchor="start" font-style="italic" fill="#000" xml:space="preserve">Gemmiger formicilis</text>
<rect x="81.02" y="352.69" width="7.68" height="5.10" fill="#4db336" stroke="none" stroke-width="1"/>
<path d="M61.90,355.24 H99.56 M61.90,353.84 v2.8 M99.56,353.84 v2.8" fill="none" stroke="#222" stroke-width="0.8"/>
<line x1="106.40" y1="355.24" x2="108.70" y2="355.24" stroke="#444" stroke-width="0.6"/>
<text x="111.10" y="357.54" font-size="8.45" text-anchor="start" font-style="italic" fill="#000" xml:space="preserve">Lactobacillus salivarius</text>
<rect x="80.73" y="361.32" width="7.97" height="5.10" fill="#4db336" stroke="none" stroke-width="1"/>
<path d="M67.01,363.87 H93.72 M67.01,362.47 v2.8 M93.72,362.47 v2.8" fill="none" stroke="#000" stroke-width="0.8" opacity=".46"/>
<line x1="106.40" y1="363.87" x2="108.70" y2="363.87" stroke="#444" stroke-width="0.6"/>
<text x="111.10" y="366.17" font-size="8.45" text-anchor="start" font-style="italic" fill="#000" xml:space="preserve">Dialister hominis</text>
<rect x="80.15" y="369.94" width="8.55" height="5.10" fill="#4db336" stroke="none" stroke-width="1"/>
<path d="M74.31,372.49 H84.53 M74.31,371.09 v2.8 M84.53,371.09 v2.8" fill="none" stroke="#222" stroke-width="0.8"/>
<line x1="106.40" y1="372.49" x2="108.70" y2="372.49" stroke="#444" stroke-width="0.6"/>
<text x="111.10" y="374.79" font-size="8.45" text-anchor="start" font-style="italic" fill="#000" xml:space="preserve">Roseburia-g-unc</text>
<rect x="80.15" y="378.56" width="8.55" height="5.10" fill="#4db336" stroke="none" stroke-width="1"/>
<path d="M71.82,381.11 H86.86 M71.82,379.71 v2.8 M86.86,379.71 v2.8" fill="none" stroke="#000" stroke-width="0.8" opacity=".46"/>
<line x1="106.40" y1="381.11" x2="108.70" y2="381.11" stroke="#444" stroke-width="0.6"/>
<text x="111.10" y="383.41" font-size="8.45" text-anchor="start" font-style="italic" fill="#000" xml:space="preserve">Firmicutes-p-unc</text>
<rect x="80.15" y="387.18" width="8.55" height="5.10" fill="#4db336" stroke="none" stroke-width="1"/>
<path d="M70.36,389.73 H88.61 M70.36,388.33 v2.8 M88.61,388.33 v2.8" fill="none" stroke="#222" stroke-width="0.8"/>
<line x1="106.40" y1="389.73" x2="108.70" y2="389.73" stroke="#444" stroke-width="0.6"/>
<text x="111.10" y="392.03" font-size="8.45" text-anchor="start" font-style="italic" fill="#000" xml:space="preserve">Enterocloster bolteae</text>
<rect x="80.15" y="395.80" width="8.55" height="5.10" fill="#4db336" stroke="none" stroke-width="1"/>
<path d="M68.18,398.35 H90.36 M68.18,396.95 v2.8 M90.36,396.95 v2.8" fill="none" stroke="#222" stroke-width="0.8"/>
<line x1="106.40" y1="398.35" x2="108.70" y2="398.35" stroke="#444" stroke-width="0.6"/>
<text x="111.10" y="400.65" font-size="8.45" text-anchor="start" font-style="italic" fill="#000" xml:space="preserve">Phocaeicola vulgatus</text>
<rect x="79.56" y="404.42" width="9.14" height="5.10" fill="#4db336" stroke="none" stroke-width="1"/>
<path d="M64.67,406.97 H93.43 M64.67,405.57 v2.8 M93.43,405.57 v2.8" fill="none" stroke="#000" stroke-width="0.8" opacity=".46"/>
<line x1="106.40" y1="406.97" x2="108.70" y2="406.97" stroke="#444" stroke-width="0.6"/>
<text x="111.10" y="409.27" font-size="8.45" text-anchor="start" font-style="italic" fill="#000" xml:space="preserve">Escherichia coli</text>
<rect x="79.56" y="413.04" width="9.14" height="5.10" fill="#4db336" stroke="none" stroke-width="1"/>
<path d="M67.45,415.59 H90.36 M67.45,414.19 v2.8 M90.36,414.19 v2.8" fill="none" stroke="#222" stroke-width="0.8"/>
<line x1="106.40" y1="415.59" x2="108.70" y2="415.59" stroke="#444" stroke-width="0.6"/>
<text x="111.10" y="417.89" font-size="8.45" text-anchor="start" font-style="italic" fill="#000" xml:space="preserve">Anaerobutyricum hallii</text>
<rect x="79.25" y="421.66" width="9.45" height="5.10" fill="#4db336" stroke="none" stroke-width="1"/>
<path d="M63.02,424.21 H94.68 M63.02,422.81 v2.8 M94.68,422.81 v2.8" fill="none" stroke="#222" stroke-width="0.8"/>
<line x1="106.40" y1="424.21" x2="108.70" y2="424.21" stroke="#444" stroke-width="0.6"/>
<text x="111.10" y="426.51" font-size="8.45" text-anchor="start" font-style="italic" fill="#000" xml:space="preserve">Dialister-g-unc</text>
<rect x="79.25" y="430.28" width="9.45" height="5.10" fill="#4db336" stroke="none" stroke-width="1"/>
<path d="M71.62,432.83 H85.42 M71.62,431.43 v2.8 M85.42,431.43 v2.8" fill="none" stroke="#000" stroke-width="0.8" opacity=".46"/>
<line x1="106.40" y1="432.83" x2="108.70" y2="432.83" stroke="#444" stroke-width="0.6"/>
<text x="111.10" y="435.13" font-size="8.45" text-anchor="start" font-style="italic" fill="#000" xml:space="preserve">Bacteria-d-unc</text>
<rect x="79.25" y="438.90" width="9.45" height="5.10" fill="#4db336" stroke="none" stroke-width="1"/>
<path d="M71.62,441.45 H85.42 M71.62,440.05 v2.8 M85.42,440.05 v2.8" fill="none" stroke="#222" stroke-width="0.8"/>
<line x1="106.40" y1="441.45" x2="108.70" y2="441.45" stroke="#444" stroke-width="0.6"/>
<text x="111.10" y="443.75" font-size="8.45" text-anchor="start" font-style="italic" fill="#000" xml:space="preserve">Bacteroidales-o-unc</text>
<rect x="78.44" y="447.52" width="10.26" height="5.10" fill="#4db336" stroke="none" stroke-width="1"/>
<path d="M64.32,450.07 H91.43 M64.32,448.67 v2.8 M91.43,448.67 v2.8" fill="none" stroke="#000" stroke-width="0.8" opacity=".46"/>
<line x1="106.40" y1="450.07" x2="108.70" y2="450.07" stroke="#444" stroke-width="0.6"/>
<text x="111.10" y="452.37" font-size="8.45" text-anchor="start" font-style="italic" fill="#000" xml:space="preserve">Alistipes-g-unc</text>
<rect x="78.12" y="456.14" width="10.58" height="5.10" fill="#4db336" stroke="none" stroke-width="1"/>
<path d="M63.34,458.69 H91.92 M63.34,457.29 v2.8 M91.92,457.29 v2.8" fill="none" stroke="#222" stroke-width="0.8"/>
<line x1="106.40" y1="458.69" x2="108.70" y2="458.69" stroke="#444" stroke-width="0.6"/>
<text x="111.10" y="460.99" font-size="8.45" text-anchor="start" font-style="italic" fill="#000" xml:space="preserve">Enterococcus-g-unc</text>
<rect x="77.95" y="464.76" width="10.75" height="5.10" fill="#4db336" stroke="none" stroke-width="1"/>
<path d="M60.58,467.31 H93.54 M60.58,465.91 v2.8 M93.54,465.91 v2.8" fill="none" stroke="#222" stroke-width="0.8"/>
<line x1="106.40" y1="467.31" x2="108.70" y2="467.31" stroke="#444" stroke-width="0.6"/>
<text x="111.10" y="469.61" font-size="8.45" text-anchor="start" font-style="italic" fill="#000" xml:space="preserve">Enterobacteriaceae-f-unc</text>
<rect x="77.14" y="473.38" width="11.56" height="5.10" fill="#4db336" stroke="none" stroke-width="1"/>
<path d="M70.65,475.93 H82.50 M70.65,474.53 v2.8 M82.50,474.53 v2.8" fill="none" stroke="#000" stroke-width="0.8" opacity=".46"/>
<line x1="106.40" y1="475.93" x2="108.70" y2="475.93" stroke="#444" stroke-width="0.6"/>
<text x="111.10" y="478.23" font-size="8.45" text-anchor="start" font-style="italic" fill="#000" xml:space="preserve">Clostridium-g-unc</text>
<rect x="76.82" y="482.01" width="11.88" height="5.10" fill="#4db336" stroke="none" stroke-width="1"/>
<path d="M68.38,484.56 H83.31 M68.38,483.16 v2.8 M83.31,483.16 v2.8" fill="none" stroke="#222" stroke-width="0.8"/>
<line x1="106.40" y1="484.56" x2="108.70" y2="484.56" stroke="#444" stroke-width="0.6"/>
<text x="111.10" y="486.86" font-size="8.45" text-anchor="start" font-style="italic" fill="#000" xml:space="preserve">Ruminococcus-g-unc</text>
<rect x="74.38" y="490.63" width="14.32" height="5.10" fill="#4db336" stroke="none" stroke-width="1"/>
<path d="M65.45,493.18 H82.50 M65.45,491.78 v2.8 M82.50,491.78 v2.8" fill="none" stroke="#222" stroke-width="0.8"/>
<line x1="106.40" y1="493.18" x2="108.70" y2="493.18" stroke="#444" stroke-width="0.6"/>
<text x="111.10" y="495.48" font-size="8.45" text-anchor="start" font-style="italic" fill="#000" xml:space="preserve">Lachnospiraceae-f-unc</text>
<rect x="74.06" y="499.25" width="14.64" height="5.10" fill="#4db336" stroke="none" stroke-width="1"/>
<path d="M63.83,501.80 H83.31 M63.83,500.40 v2.8 M83.31,500.40 v2.8" fill="none" stroke="#000" stroke-width="0.8" opacity=".46"/>
<line x1="106.40" y1="501.80" x2="108.70" y2="501.80" stroke="#444" stroke-width="0.6"/>
<text x="111.10" y="504.10" font-size="8.45" text-anchor="start" font-style="italic" fill="#000" xml:space="preserve">Faecalibacterium-g-unc</text>
<rect x="73.57" y="507.87" width="15.13" height="5.10" fill="#4db336" stroke="none" stroke-width="1"/>
<path d="M67.08,510.42 H79.58 M67.08,509.02 v2.8 M79.58,509.02 v2.8" fill="none" stroke="#222" stroke-width="0.8"/>
<line x1="106.40" y1="510.42" x2="108.70" y2="510.42" stroke="#444" stroke-width="0.6"/>
<text x="111.10" y="512.72" font-size="8.45" text-anchor="start" font-style="italic" fill="#000" xml:space="preserve">Eubacterium rectale</text>
<rect x="71.95" y="516.49" width="16.75" height="5.10" fill="#4db336" stroke="none" stroke-width="1"/>
<path d="M59.45,519.04 H84.45 M59.45,517.64 v2.8 M84.45,517.64 v2.8" fill="none" stroke="#000" stroke-width="0.8" opacity=".46"/>
<line x1="106.40" y1="519.04" x2="108.70" y2="519.04" stroke="#444" stroke-width="0.6"/>
<text x="111.10" y="521.34" font-size="8.45" text-anchor="start" font-style="italic" fill="#000" xml:space="preserve">Clostridiales-o-unc</text>
<rect x="70.97" y="525.11" width="17.73" height="5.10" fill="#4db336" stroke="none" stroke-width="1"/>
<path d="M41.92,527.66 H99.55 M41.92,526.26 v2.8 M99.55,526.26 v2.8" fill="none" stroke="#222" stroke-width="0.8"/>
<line x1="106.40" y1="527.66" x2="108.70" y2="527.66" stroke="#444" stroke-width="0.6"/>
<text x="111.10" y="529.96" font-size="8.45" text-anchor="start" font-style="italic" fill="#000" xml:space="preserve">Bacteroides thetaiotaomicron</text>
<rect x="64.16" y="533.73" width="24.54" height="5.10" fill="#4db336" stroke="none" stroke-width="1"/>
<path d="M57.34,536.28 H70.32 M57.34,534.88 v2.8 M70.32,534.88 v2.8" fill="none" stroke="#222" stroke-width="0.8"/>
<line x1="106.40" y1="536.28" x2="108.70" y2="536.28" stroke="#444" stroke-width="0.6"/>
<text x="111.10" y="538.58" font-size="8.45" text-anchor="start" font-style="italic" fill="#000" xml:space="preserve">Faecalibacterium prausnitzii</text>
<rect x="61.40" y="542.35" width="27.30" height="5.10" fill="#4db336" stroke="none" stroke-width="1"/>
<path d="M44.35,544.90 H77.63 M44.35,543.50 v2.8 M77.63,543.50 v2.8" fill="none" stroke="#000" stroke-width="0.8" opacity=".46"/>
<line x1="106.40" y1="544.90" x2="108.70" y2="544.90" stroke="#444" stroke-width="0.6"/>
<text x="111.10" y="547.20" font-size="8.45" text-anchor="start" font-style="italic" fill="#000" xml:space="preserve">Bacteroides-g-unc</text>
<line x1="106.40" y1="288.40" x2="106.40" y2="550.70" stroke="#777" stroke-width="0.8"/>
<line x1="34.30" y1="550.30" x2="106.40" y2="550.30" stroke="#555" stroke-width="0.8"/>
<line x1="34.40" y1="550.30" x2="34.40" y2="552.90" stroke="#555" stroke-width="0.7"/>
<text x="34.40" y="562.20" font-size="8.6" text-anchor="middle" fill="#000">60</text>
<line x1="52.50" y1="550.30" x2="52.50" y2="552.90" stroke="#555" stroke-width="0.7"/>
<text x="52.50" y="562.20" font-size="8.6" text-anchor="middle" fill="#000">40</text>
<line x1="70.60" y1="550.30" x2="70.60" y2="552.90" stroke="#555" stroke-width="0.7"/>
<text x="70.60" y="562.20" font-size="8.6" text-anchor="middle" fill="#000">20</text>
<line x1="88.70" y1="550.30" x2="88.70" y2="552.90" stroke="#555" stroke-width="0.7"/>
<text x="88.70" y="562.20" font-size="8.6" text-anchor="middle" fill="#000">0</text>
<line x1="106.80" y1="550.30" x2="106.80" y2="552.90" stroke="#555" stroke-width="0.7"/>
<text x="105.60" y="562.20" font-size="8.6" text-anchor="middle" fill="#000">-20</text>
<text x="34.60" y="576.80" font-size="10.9" text-anchor="start" fill="#000">VIP scores (CON &amp; RAP-A)</text>
<text x="205.20" y="293.80" font-size="22.5" text-anchor="start" fill="#000">C</text>
<line x1="258.30" y1="288.40" x2="258.30" y2="550.30" stroke="#a4a4a4" stroke-width="0.8"/>
<rect x="252.23" y="291.75" width="6.07" height="5.10" fill="#4db336" stroke="none" stroke-width="1"/>
<path d="M245.36,294.30 H258.07 M245.36,292.90 v2.8 M258.07,292.90 v2.8" fill="none" stroke="#222" stroke-width="0.8"/>
<line x1="277.40" y1="294.30" x2="280.70" y2="294.30" stroke="#444" stroke-width="0.6"/>
<text x="283.30" y="296.60" font-size="8.35" text-anchor="start" font-style="italic" fill="#000" xml:space="preserve">Subdoligranulum sp. APC924/74</text>
<rect x="252.23" y="300.39" width="6.07" height="5.10" fill="#4db336" stroke="none" stroke-width="1"/>
<path d="M246.39,302.94 H257.34 M246.39,301.54 v2.8 M257.34,301.54 v2.8" fill="none" stroke="#000" stroke-width="0.8" opacity=".46"/>
<line x1="277.40" y1="302.94" x2="280.70" y2="302.94" stroke="#444" stroke-width="0.6"/>
<text x="283.30" y="305.24" font-size="8.35" text-anchor="start" font-style="italic" fill="#000" xml:space="preserve">Roseburia faecis</text>
<rect x="252.52" y="309.03" width="5.78" height="5.10" fill="#4db336" stroke="none" stroke-width="1"/>
<path d="M249.31,311.58 H254.42 M249.31,310.18 v2.8 M254.42,310.18 v2.8" fill="none" stroke="#222" stroke-width="0.8"/>
<line x1="277.40" y1="311.58" x2="280.70" y2="311.58" stroke="#444" stroke-width="0.6"/>
<text x="283.30" y="313.88" font-size="8.35" text-anchor="start" font-style="italic" fill="#000" xml:space="preserve">Faecalibacterium sp.</text>
<rect x="252.23" y="317.67" width="6.07" height="5.10" fill="#4db336" stroke="none" stroke-width="1"/>
<path d="M240.55,320.22 H262.59 M240.55,318.82 v2.8 M262.59,318.82 v2.8" fill="none" stroke="#222" stroke-width="0.8"/>
<line x1="277.40" y1="320.22" x2="280.70" y2="320.22" stroke="#444" stroke-width="0.6"/>
<text x="283.30" y="322.52" font-size="8.35" text-anchor="start" font-style="italic" fill="#000" xml:space="preserve">Dialister massiliensis</text>
<rect x="252.23" y="326.32" width="6.07" height="5.10" fill="#4db336" stroke="none" stroke-width="1"/>
<path d="M240.26,328.87 H263.18 M240.26,327.47 v2.8 M263.18,327.47 v2.8" fill="none" stroke="#000" stroke-width="0.8" opacity=".46"/>
<line x1="277.40" y1="328.87" x2="280.70" y2="328.87" stroke="#444" stroke-width="0.6"/>
<text x="283.30" y="331.17" font-size="8.35" text-anchor="start" font-style="italic" fill="#000" xml:space="preserve">Dialister sp. CAG-357</text>
<rect x="251.93" y="334.96" width="6.37" height="5.10" fill="#4db336" stroke="none" stroke-width="1"/>
<path d="M244.49,337.51 H258.07 M244.49,336.11 v2.8 M258.07,336.11 v2.8" fill="none" stroke="#222" stroke-width="0.8"/>
<line x1="277.40" y1="337.51" x2="280.70" y2="337.51" stroke="#444" stroke-width="0.6"/>
<text x="283.30" y="339.81" font-size="8.35" text-anchor="start" font-style="italic" fill="#000" xml:space="preserve">Bifidobacterium pseudocatenulatum</text>
<rect x="251.93" y="343.60" width="6.37" height="5.10" fill="#4db336" stroke="none" stroke-width="1"/>
<path d="M236.90,346.15 H265.66 M236.90,344.75 v2.8 M265.66,344.75 v2.8" fill="none" stroke="#222" stroke-width="0.8"/>
<line x1="277.40" y1="346.15" x2="280.70" y2="346.15" stroke="#444" stroke-width="0.6"/>
<text x="283.30" y="348.45" font-size="8.35" text-anchor="start" font-style="italic" fill="#000" xml:space="preserve">Muribaculaceae bacterium Isolate-104-(HZI)</text>
<rect x="251.50" y="352.24" width="6.80" height="5.10" fill="#4db336" stroke="none" stroke-width="1"/>
<path d="M238.65,354.79 H263.47 M238.65,353.39 v2.8 M263.47,353.39 v2.8" fill="none" stroke="#000" stroke-width="0.8" opacity=".46"/>
<line x1="277.40" y1="354.79" x2="280.70" y2="354.79" stroke="#444" stroke-width="0.6"/>
<text x="283.30" y="357.09" font-size="8.35" text-anchor="start" font-style="italic" fill="#000" xml:space="preserve">Dialister hominis</text>
<rect x="251.20" y="360.88" width="7.10" height="5.10" fill="#4db336" stroke="none" stroke-width="1"/>
<path d="M245.36,363.43 H257.04 M245.36,362.03 v2.8 M257.04,362.03 v2.8" fill="none" stroke="#222" stroke-width="0.8"/>
<line x1="277.40" y1="363.43" x2="280.70" y2="363.43" stroke="#444" stroke-width="0.6"/>
<text x="283.30" y="365.73" font-size="8.35" text-anchor="start" font-style="italic" fill="#000" xml:space="preserve">Roseburia-g-unc</text>
<rect x="251.20" y="369.52" width="7.10" height="5.10" fill="#4db336" stroke="none" stroke-width="1"/>
<path d="M246.39,372.07 H255.15 M246.39,370.67 v2.8 M255.15,370.67 v2.8" fill="none" stroke="#222" stroke-width="0.8"/>
<line x1="277.40" y1="372.07" x2="280.70" y2="372.07" stroke="#444" stroke-width="0.6"/>
<text x="283.30" y="374.37" font-size="8.35" text-anchor="start" font-style="italic" fill="#000" xml:space="preserve">Blautia obeum</text>
<rect x="250.77" y="378.16" width="7.53" height="5.10" fill="#4db336" stroke="none" stroke-width="1"/>
<path d="M238.80,380.71 H261.42 M238.80,379.31 v2.8 M261.42,379.31 v2.8" fill="none" stroke="#000" stroke-width="0.8" opacity=".46"/>
<line x1="277.40" y1="380.71" x2="280.70" y2="380.71" stroke="#444" stroke-width="0.6"/>
<text x="283.30" y="383.01" font-size="8.35" text-anchor="start" font-style="italic" fill="#000" xml:space="preserve">Bacteroides caccae</text>
<rect x="250.77" y="386.81" width="7.53" height="5.10" fill="#4db336" stroke="none" stroke-width="1"/>
<path d="M244.64,389.36 H255.58 M244.64,387.96 v2.8 M255.58,387.96 v2.8" fill="none" stroke="#222" stroke-width="0.8"/>
<line x1="277.40" y1="389.36" x2="280.70" y2="389.36" stroke="#444" stroke-width="0.6"/>
<text x="283.30" y="391.66" font-size="8.35" text-anchor="start" font-style="italic" fill="#000" xml:space="preserve">Blautia-g-unc</text>
<rect x="250.47" y="395.45" width="7.83" height="5.10" fill="#4db336" stroke="none" stroke-width="1"/>
<path d="M235.44,398.00 H264.64 M235.44,396.60 v2.8 M264.64,396.60 v2.8" fill="none" stroke="#222" stroke-width="0.8"/>
<line x1="277.40" y1="398.00" x2="280.70" y2="398.00" stroke="#444" stroke-width="0.6"/>
<text x="283.30" y="400.30" font-size="8.35" text-anchor="start" font-style="italic" fill="#000" xml:space="preserve"> Dialister-g-unc</text>
<rect x="250.04" y="404.09" width="8.26" height="5.10" fill="#4db336" stroke="none" stroke-width="1"/>
<path d="M241.28,406.64 H258.07 M241.28,405.24 v2.8 M258.07,405.24 v2.8" fill="none" stroke="#000" stroke-width="0.8" opacity=".46"/>
<line x1="277.40" y1="406.64" x2="280.70" y2="406.64" stroke="#444" stroke-width="0.6"/>
<text x="283.30" y="408.94" font-size="8.35" text-anchor="start" font-style="italic" fill="#000" xml:space="preserve">Gemmiger formicilis</text>
<rect x="249.31" y="412.73" width="8.99" height="5.10" fill="#4db336" stroke="none" stroke-width="1"/>
<path d="M240.55,415.28 H258.07 M240.55,413.88 v2.8 M258.07,413.88 v2.8" fill="none" stroke="#222" stroke-width="0.8"/>
<line x1="277.40" y1="415.28" x2="280.70" y2="415.28" stroke="#444" stroke-width="0.6"/>
<text x="283.30" y="417.58" font-size="8.35" text-anchor="start" font-style="italic" fill="#000" xml:space="preserve">Eubacterium rectale</text>
<rect x="248.28" y="421.37" width="10.02" height="5.10" fill="#4db336" stroke="none" stroke-width="1"/>
<path d="M230.10,423.92 H266.62 M230.10,422.52 v2.8 M266.62,422.52 v2.8" fill="none" stroke="#000" stroke-width="0.8" opacity=".46"/>
<line x1="277.40" y1="423.92" x2="280.70" y2="423.92" stroke="#444" stroke-width="0.6"/>
<text x="283.30" y="426.22" font-size="8.35" text-anchor="start" font-style="italic" fill="#000" xml:space="preserve">Megamonas-g-unc</text>
<rect x="247.95" y="430.01" width="10.35" height="5.10" fill="#4db336" stroke="none" stroke-width="1"/>
<path d="M239.35,432.56 H255.91 M239.35,431.16 v2.8 M255.91,431.16 v2.8" fill="none" stroke="#222" stroke-width="0.8"/>
<line x1="277.40" y1="432.56" x2="280.70" y2="432.56" stroke="#444" stroke-width="0.6"/>
<text x="283.30" y="434.86" font-size="8.35" text-anchor="start" font-style="italic" fill="#000" xml:space="preserve">Firmicutes-f-unc</text>
<rect x="247.47" y="438.65" width="10.83" height="5.10" fill="#4db336" stroke="none" stroke-width="1"/>
<path d="M233.67,441.20 H260.45 M233.67,439.80 v2.8 M260.45,439.80 v2.8" fill="none" stroke="#222" stroke-width="0.8"/>
<line x1="277.40" y1="441.20" x2="280.70" y2="441.20" stroke="#444" stroke-width="0.6"/>
<text x="283.30" y="443.50" font-size="8.35" text-anchor="start" font-style="italic" fill="#000" xml:space="preserve">Anaerobutyricum hallii</text>
<rect x="246.98" y="447.29" width="11.32" height="5.10" fill="#4db336" stroke="none" stroke-width="1"/>
<path d="M225.55,449.84 H268.08 M225.55,448.44 v2.8 M268.08,448.44 v2.8" fill="none" stroke="#000" stroke-width="0.8" opacity=".46"/>
<line x1="277.40" y1="449.84" x2="280.70" y2="449.84" stroke="#444" stroke-width="0.6"/>
<text x="283.30" y="452.14" font-size="8.35" text-anchor="start" font-style="italic" fill="#000" xml:space="preserve">Megamonas funiformis</text>
<rect x="246.17" y="455.94" width="12.13" height="5.10" fill="#4db336" stroke="none" stroke-width="1"/>
<path d="M240.16,458.49 H251.04 M240.16,457.09 v2.8 M251.04,457.09 v2.8" fill="none" stroke="#222" stroke-width="0.8"/>
<line x1="277.40" y1="458.49" x2="280.70" y2="458.49" stroke="#444" stroke-width="0.6"/>
<text x="283.30" y="460.79" font-size="8.35" text-anchor="start" font-style="italic" fill="#000" xml:space="preserve">Bacteroidales-o-unc</text>
<rect x="245.84" y="464.58" width="12.46" height="5.10" fill="#4db336" stroke="none" stroke-width="1"/>
<path d="M234.48,467.13 H257.53 M234.48,465.73 v2.8 M257.53,465.73 v2.8" fill="none" stroke="#222" stroke-width="0.8"/>
<line x1="277.40" y1="467.13" x2="280.70" y2="467.13" stroke="#444" stroke-width="0.6"/>
<text x="283.30" y="469.43" font-size="8.35" text-anchor="start" font-style="italic" fill="#000" xml:space="preserve">Ruminococcaceae bacterium</text>
<rect x="245.52" y="473.22" width="12.78" height="5.10" fill="#4db336" stroke="none" stroke-width="1"/>
<path d="M238.54,475.77 H252.66 M238.54,474.37 v2.8 M252.66,474.37 v2.8" fill="none" stroke="#000" stroke-width="0.8" opacity=".46"/>
<line x1="277.40" y1="475.77" x2="280.70" y2="475.77" stroke="#444" stroke-width="0.6"/>
<text x="283.30" y="478.07" font-size="8.35" text-anchor="start" font-style="italic" fill="#000" xml:space="preserve">Ruminococcus-g-unc</text>
<rect x="245.52" y="481.86" width="12.78" height="5.10" fill="#4db336" stroke="none" stroke-width="1"/>
<path d="M237.40,484.41 H252.66 M237.40,483.01 v2.8 M252.66,483.01 v2.8" fill="none" stroke="#222" stroke-width="0.8"/>
<line x1="277.40" y1="484.41" x2="280.70" y2="484.41" stroke="#444" stroke-width="0.6"/>
<text x="283.30" y="486.71" font-size="8.35" text-anchor="start" font-style="italic" fill="#000" xml:space="preserve">Phocaeicola vulgatus</text>
<rect x="245.03" y="490.50" width="13.27" height="5.10" fill="#4db336" stroke="none" stroke-width="1"/>
<path d="M232.53,493.05 H257.53 M232.53,491.65 v2.8 M257.53,491.65 v2.8" fill="none" stroke="#222" stroke-width="0.8"/>
<line x1="277.40" y1="493.05" x2="280.70" y2="493.05" stroke="#444" stroke-width="0.6"/>
<text x="283.30" y="495.35" font-size="8.35" text-anchor="start" font-style="italic" fill="#000" xml:space="preserve">Bacteroides stercoris</text>
<rect x="245.03" y="499.14" width="13.27" height="5.10" fill="#4db336" stroke="none" stroke-width="1"/>
<path d="M237.73,501.69 H251.53 M237.73,500.29 v2.8 M251.53,500.29 v2.8" fill="none" stroke="#000" stroke-width="0.8" opacity=".46"/>
<line x1="277.40" y1="501.69" x2="280.70" y2="501.69" stroke="#444" stroke-width="0.6"/>
<text x="283.30" y="503.99" font-size="8.35" text-anchor="start" font-style="italic" fill="#000" xml:space="preserve">Faecalibacterium-g-unc</text>
<rect x="245.03" y="507.78" width="13.27" height="5.10" fill="#4db336" stroke="none" stroke-width="1"/>
<path d="M236.43,510.33 H252.66 M236.43,508.93 v2.8 M252.66,508.93 v2.8" fill="none" stroke="#222" stroke-width="0.8"/>
<line x1="277.40" y1="510.33" x2="280.70" y2="510.33" stroke="#444" stroke-width="0.6"/>
<text x="283.30" y="512.63" font-size="8.35" text-anchor="start" font-style="italic" fill="#000" xml:space="preserve">Lachnospiraceae-f-unc</text>
<rect x="245.03" y="516.43" width="13.27" height="5.10" fill="#4db336" stroke="none" stroke-width="1"/>
<path d="M227.50,518.98 H261.59 M227.50,517.58 v2.8 M261.59,517.58 v2.8" fill="none" stroke="#222" stroke-width="0.8"/>
<line x1="277.40" y1="518.98" x2="280.70" y2="518.98" stroke="#444" stroke-width="0.6"/>
<text x="283.30" y="521.28" font-size="8.35" text-anchor="start" font-style="italic" fill="#000" xml:space="preserve">Ruminococcus gnavus</text>
<rect x="239.03" y="525.07" width="19.27" height="5.10" fill="#4db336" stroke="none" stroke-width="1"/>
<path d="M226.85,527.62 H250.39 M226.85,526.22 v2.8 M250.39,526.22 v2.8" fill="none" stroke="#000" stroke-width="0.8" opacity=".46"/>
<line x1="277.40" y1="527.62" x2="280.70" y2="527.62" stroke="#444" stroke-width="0.6"/>
<text x="283.30" y="529.92" font-size="8.35" text-anchor="start" font-style="italic" fill="#000" xml:space="preserve">Clostridiales-o-unc</text>
<rect x="236.92" y="533.71" width="21.38" height="5.10" fill="#4db336" stroke="none" stroke-width="1"/>
<path d="M217.11,536.26 H255.58 M217.11,534.86 v2.8 M255.58,534.86 v2.8" fill="none" stroke="#222" stroke-width="0.8"/>
<line x1="277.40" y1="536.26" x2="280.70" y2="536.26" stroke="#444" stroke-width="0.6"/>
<text x="283.30" y="538.56" font-size="8.35" text-anchor="start" font-style="italic" fill="#000" xml:space="preserve">Bacteroides-g-unc</text>
<rect x="234.97" y="542.35" width="23.33" height="5.10" fill="#4db336" stroke="none" stroke-width="1"/>
<path d="M227.18,544.90 H241.46 M227.18,543.50 v2.8 M241.46,543.50 v2.8" fill="none" stroke="#222" stroke-width="0.8"/>
<line x1="277.40" y1="544.90" x2="280.70" y2="544.90" stroke="#444" stroke-width="0.6"/>
<text x="283.30" y="547.20" font-size="8.35" text-anchor="start" font-style="italic" fill="#000" xml:space="preserve">Faecalibacterium prausnitzii</text>
<line x1="277.40" y1="288.40" x2="277.40" y2="550.70" stroke="#777" stroke-width="0.8"/>
<line x1="203.50" y1="550.30" x2="277.40" y2="550.30" stroke="#555" stroke-width="0.8"/>
<line x1="203.55" y1="550.30" x2="203.55" y2="552.90" stroke="#555" stroke-width="0.7"/>
<text x="203.55" y="562.20" font-size="8.6" text-anchor="middle" fill="#000">60</text>
<line x1="221.80" y1="550.30" x2="221.80" y2="552.90" stroke="#555" stroke-width="0.7"/>
<text x="221.80" y="562.20" font-size="8.6" text-anchor="middle" fill="#000">40</text>
<line x1="240.05" y1="550.30" x2="240.05" y2="552.90" stroke="#555" stroke-width="0.7"/>
<text x="240.05" y="562.20" font-size="8.6" text-anchor="middle" fill="#000">20</text>
<line x1="258.30" y1="550.30" x2="258.30" y2="552.90" stroke="#555" stroke-width="0.7"/>
<text x="258.30" y="562.20" font-size="8.6" text-anchor="middle" fill="#000">0</text>
<line x1="276.55" y1="550.30" x2="276.55" y2="552.90" stroke="#555" stroke-width="0.7"/>
<text x="275.35" y="562.20" font-size="8.6" text-anchor="middle" fill="#000">-20</text>
<text x="222.60" y="576.80" font-size="10.9" text-anchor="start" fill="#000">VIP scores (CON &amp; RAP-R)</text>
<text x="417.00" y="293.20" font-size="22.5" text-anchor="start" fill="#000">D</text>
<rect x="440.00" y="288.80" width="94.50" height="9.48" fill="#ee2424" stroke="#7a1010" stroke-width="0.55"/>
<text x="535.80" y="296.64" font-size="8.4" text-anchor="start" font-style="italic" fill="#000">Faecalibacterium-g</text>
<rect x="445.50" y="298.28" width="89.00" height="9.48" fill="#ee2424" stroke="#7a1010" stroke-width="0.55"/>
<text x="535.80" y="306.12" font-size="8.4" text-anchor="start" font-style="italic" fill="#000">Faecalibacterium prausnitzii</text>
<rect x="446.80" y="307.76" width="87.70" height="9.48" fill="#ee2424" stroke="#7a1010" stroke-width="0.55"/>
<text x="535.80" y="315.61" font-size="8.4" text-anchor="start" font-style="italic" fill="#000">Lachnospiraceae-f-unc-g</text>
<rect x="447.40" y="317.25" width="87.10" height="9.48" fill="#ee2424" stroke="#7a1010" stroke-width="0.55"/>
<text x="535.80" y="325.09" font-size="8.4" text-anchor="start" font-style="italic" fill="#000">Clostridiales-o-unc-g</text>
<rect x="448.00" y="326.73" width="86.50" height="9.48" fill="#ee2424" stroke="#7a1010" stroke-width="0.55"/>
<text x="535.80" y="334.57" font-size="8.4" text-anchor="start" font-style="italic" fill="#000">Dialister-g</text>
<rect x="448.00" y="336.21" width="86.50" height="9.48" fill="#ee2424" stroke="#7a1010" stroke-width="0.55"/>
<text x="535.80" y="344.05" font-size="8.4" text-anchor="start" font-style="italic" fill="#000">Ruminococcus-g</text>
<rect x="448.20" y="345.69" width="86.30" height="9.48" fill="#ee2424" stroke="#7a1010" stroke-width="0.55"/>
<text x="535.80" y="353.53" font-size="8.4" text-anchor="start" font-style="italic" fill="#000">Roseburia-g</text>
<rect x="451.30" y="355.18" width="83.20" height="9.48" fill="#ee2424" stroke="#7a1010" stroke-width="0.55"/>
<text x="535.80" y="363.02" font-size="8.4" text-anchor="start" font-style="italic" fill="#000">Blautia-g</text>
<rect x="451.70" y="364.66" width="82.80" height="9.48" fill="#ee2424" stroke="#7a1010" stroke-width="0.55"/>
<text x="535.80" y="372.50" font-size="8.4" text-anchor="start" font-style="italic" fill="#000">Faecalibacterium-g-unc</text>
<rect x="453.30" y="374.14" width="81.20" height="9.48" fill="#ee2424" stroke="#7a1010" stroke-width="0.55"/>
<text x="535.80" y="381.98" font-size="8.4" text-anchor="start" font-style="italic" fill="#000">Eubacterium rectale</text>
<rect x="453.70" y="383.62" width="80.80" height="9.48" fill="#ee2424" stroke="#7a1010" stroke-width="0.55"/>
<text x="535.80" y="391.46" font-size="8.4" text-anchor="start" font-style="italic" fill="#000">Eubacterium-g</text>
<rect x="456.80" y="393.10" width="77.70" height="9.48" fill="#ee2424" stroke="#7a1010" stroke-width="0.55"/>
<text x="535.80" y="400.94" font-size="8.4" text-anchor="start" font-style="italic" fill="#000">Ruminococcus-g-unc</text>
<rect x="457.80" y="402.59" width="76.70" height="9.48" fill="#ee2424" stroke="#7a1010" stroke-width="0.55"/>
<text x="535.80" y="410.43" font-size="8.4" text-anchor="start" font-style="italic" fill="#000">Dialister-g-unc</text>
<rect x="458.40" y="412.07" width="76.10" height="9.48" fill="#ee2424" stroke="#7a1010" stroke-width="0.55"/>
<text x="535.80" y="419.91" font-size="8.4" text-anchor="start" font-style="italic" fill="#000">Clostridium-g-unc-s</text>
<rect x="459.90" y="421.55" width="74.60" height="9.48" fill="#ee2424" stroke="#7a1010" stroke-width="0.55"/>
<text x="535.80" y="429.39" font-size="8.4" text-anchor="start" font-style="italic" fill="#000">Gemmiger-g</text>
<rect x="460.30" y="431.03" width="74.20" height="9.48" fill="#ee2424" stroke="#7a1010" stroke-width="0.55"/>
<text x="535.80" y="438.87" font-size="8.4" text-anchor="start" font-style="italic" fill="#000">Gemmiger formicilis</text>
<rect x="460.50" y="440.51" width="74.00" height="9.48" fill="#ee2424" stroke="#7a1010" stroke-width="0.55"/>
<text x="535.80" y="448.36" font-size="8.4" text-anchor="start" font-style="italic" fill="#000">Coprococcus-g</text>
<rect x="460.70" y="450.00" width="73.80" height="9.48" fill="#ee2424" stroke="#7a1010" stroke-width="0.55"/>
<text x="535.80" y="457.84" font-size="8.4" text-anchor="start" font-style="italic" fill="#000">Roseburia-g-unc</text>
<rect x="460.90" y="459.48" width="73.60" height="9.48" fill="#ee2424" stroke="#7a1010" stroke-width="0.55"/>
<text x="535.80" y="467.32" font-size="8.4" text-anchor="start" font-style="italic" fill="#000">Firmicutes-g-unc</text>
<rect x="461.50" y="468.96" width="73.00" height="9.48" fill="#ee2424" stroke="#7a1010" stroke-width="0.55"/>
<text x="535.80" y="476.80" font-size="8.4" text-anchor="start" font-style="italic" fill="#000">Anaerobutyricum-g</text>
<rect x="461.90" y="478.44" width="72.60" height="9.48" fill="#ee2424" stroke="#7a1010" stroke-width="0.55"/>
<text x="535.80" y="486.28" font-size="8.4" text-anchor="start" font-style="italic" fill="#000">Anaerobutyricum hallii</text>
<rect x="462.90" y="487.92" width="71.60" height="9.48" fill="#ee2424" stroke="#7a1010" stroke-width="0.55"/>
<text x="535.80" y="495.77" font-size="8.4" text-anchor="start" font-style="italic" fill="#000">Dialister sp. CAG-357</text>
<rect x="463.30" y="497.41" width="71.20" height="9.48" fill="#ee2424" stroke="#7a1010" stroke-width="0.55"/>
<text x="535.80" y="505.25" font-size="8.4" text-anchor="start" font-style="italic" fill="#000">Dorea-g</text>
<rect x="463.50" y="506.89" width="71.00" height="9.48" fill="#ee2424" stroke="#7a1010" stroke-width="0.55"/>
<text x="535.80" y="514.73" font-size="8.4" text-anchor="start" font-style="italic" fill="#000">Bifidobacterium pseudocatenulatum</text>
<rect x="464.30" y="516.37" width="70.20" height="9.48" fill="#ee2424" stroke="#7a1010" stroke-width="0.55"/>
<text x="535.80" y="524.21" font-size="8.4" text-anchor="start" font-style="italic" fill="#000">Blautia obeum</text>
<rect x="464.60" y="525.85" width="69.90" height="9.48" fill="#ee2424" stroke="#7a1010" stroke-width="0.55"/>
<text x="535.80" y="533.69" font-size="8.4" text-anchor="start" font-style="italic" fill="#000">Blautia-g-unc</text>
<rect x="464.60" y="535.34" width="69.90" height="9.48" fill="#ee2424" stroke="#7a1010" stroke-width="0.55"/>
<text x="535.80" y="543.18" font-size="8.4" text-anchor="start" font-style="italic" fill="#000">Eubacterium sp.CAG-180</text>
<rect x="464.60" y="544.82" width="69.90" height="9.48" fill="#ee2424" stroke="#7a1010" stroke-width="0.55"/>
<text x="535.80" y="552.66" font-size="8.4" text-anchor="start" font-style="italic" fill="#000">Roseburia faecis</text>
<rect x="447.20" y="554.30" width="87.30" height="9.49" fill="#338740" stroke="#173f1d" stroke-width="0.55"/>
<text x="535.80" y="562.15" font-size="8.4" text-anchor="start" font-style="italic" fill="#000">Enterococcus-g</text>
<rect x="452.30" y="563.79" width="82.20" height="9.49" fill="#338740" stroke="#173f1d" stroke-width="0.55"/>
<text x="535.80" y="571.64" font-size="8.4" text-anchor="start" font-style="italic" fill="#000">Streptococcus-g</text>
<rect x="452.70" y="573.28" width="81.80" height="9.49" fill="#338740" stroke="#173f1d" stroke-width="0.55"/>
<text x="535.80" y="581.13" font-size="8.4" text-anchor="start" font-style="italic" fill="#000">Enterococcus-g-unc</text>
<rect x="452.70" y="582.77" width="81.80" height="9.49" fill="#338740" stroke="#173f1d" stroke-width="0.55"/>
<text x="535.80" y="590.62" font-size="8.4" text-anchor="start" font-style="italic" fill="#000">Bacteroides thetaiotaomicron</text>
<rect x="453.30" y="592.27" width="81.20" height="9.49" fill="#338740" stroke="#173f1d" stroke-width="0.55"/>
<text x="535.80" y="600.11" font-size="8.4" text-anchor="start" font-style="italic" fill="#000">Escherichia-g</text>
<rect x="453.70" y="601.76" width="80.80" height="9.49" fill="#338740" stroke="#173f1d" stroke-width="0.55"/>
<text x="535.80" y="609.60" font-size="8.4" text-anchor="start" font-style="italic" fill="#000">Escherichia coli</text>
<rect x="454.30" y="611.25" width="80.20" height="9.49" fill="#338740" stroke="#173f1d" stroke-width="0.55"/>
<text x="535.80" y="619.10" font-size="8.4" text-anchor="start" font-style="italic" fill="#000">Enterocloster-g</text>
<rect x="456.40" y="620.74" width="78.10" height="9.49" fill="#338740" stroke="#173f1d" stroke-width="0.55"/>
<text x="535.80" y="628.59" font-size="8.4" text-anchor="start" font-style="italic" fill="#000">Enterococcus faecium</text>
<rect x="457.40" y="630.23" width="77.10" height="9.49" fill="#338740" stroke="#173f1d" stroke-width="0.55"/>
<text x="535.80" y="638.08" font-size="8.4" text-anchor="start" font-style="italic" fill="#000">Enterocloster bolteae</text>
<rect x="461.50" y="639.73" width="73.00" height="9.49" fill="#338740" stroke="#173f1d" stroke-width="0.55"/>
<text x="535.80" y="647.57" font-size="8.4" text-anchor="start" font-style="italic" fill="#000">Phocaeicola plebeius</text>
<rect x="462.50" y="649.22" width="72.00" height="9.49" fill="#338740" stroke="#173f1d" stroke-width="0.55"/>
<text x="535.80" y="657.06" font-size="8.4" text-anchor="start" font-style="italic" fill="#000">Alistipes onderdonkii</text>
<rect x="463.30" y="658.71" width="71.20" height="9.49" fill="#338740" stroke="#173f1d" stroke-width="0.55"/>
<text x="535.80" y="666.55" font-size="8.4" text-anchor="start" font-style="italic" fill="#000">Streptococcus-g-unc</text>
<rect x="435.30" y="668.20" width="99.20" height="9.38" fill="#e8641f" stroke="#7a3008" stroke-width="0.55"/>
<text x="535.80" y="675.99" font-size="8.4" text-anchor="start" font-style="italic" fill="#000">Bacteroides-g</text>
<rect x="442.10" y="677.58" width="92.40" height="9.38" fill="#e8641f" stroke="#7a3008" stroke-width="0.55"/>
<text x="535.80" y="685.38" font-size="8.4" text-anchor="start" font-style="italic" fill="#000">Bacteroides-g-unc</text>
<rect x="451.30" y="686.97" width="83.20" height="9.38" fill="#e8641f" stroke="#7a3008" stroke-width="0.55"/>
<text x="535.80" y="694.76" font-size="8.4" text-anchor="start" font-style="italic" fill="#000">Phocaeicola vulgatus</text>
<rect x="452.10" y="696.35" width="82.40" height="9.38" fill="#e8641f" stroke="#7a3008" stroke-width="0.55"/>
<text x="535.80" y="704.15" font-size="8.4" text-anchor="start" font-style="italic" fill="#000">Bacteroides stercoris</text>
<rect x="453.10" y="705.74" width="81.40" height="9.38" fill="#e8641f" stroke="#7a3008" stroke-width="0.55"/>
<text x="535.80" y="713.53" font-size="8.4" text-anchor="start" font-style="italic" fill="#000">Bacteroidales-o-unc-g</text>
<rect x="456.40" y="715.12" width="78.10" height="9.38" fill="#e8641f" stroke="#7a3008" stroke-width="0.55"/>
<text x="535.80" y="722.92" font-size="8.4" text-anchor="start" font-style="italic" fill="#000">Bacteria-d-unc-g</text>
<rect x="457.80" y="724.51" width="76.70" height="9.38" fill="#e8641f" stroke="#7a3008" stroke-width="0.55"/>
<text x="535.80" y="732.30" font-size="8.4" text-anchor="start" font-style="italic" fill="#000">Parabacteroides-g</text>
<rect x="458.40" y="733.89" width="76.10" height="9.38" fill="#e8641f" stroke="#7a3008" stroke-width="0.55"/>
<text x="535.80" y="741.68" font-size="8.4" text-anchor="start" font-style="italic" fill="#000">Muribaculum-g</text>
<rect x="458.80" y="743.28" width="75.70" height="9.38" fill="#e8641f" stroke="#7a3008" stroke-width="0.55"/>
<text x="535.80" y="751.07" font-size="8.4" text-anchor="start" font-style="italic" fill="#000">Bacteroides caccae</text>
<rect x="459.90" y="752.66" width="74.60" height="9.38" fill="#e8641f" stroke="#7a3008" stroke-width="0.55"/>
<text x="535.80" y="760.45" font-size="8.4" text-anchor="start" font-style="italic" fill="#000">Muribaculaceae bacterium-104-HZI</text>
<rect x="462.50" y="762.05" width="72.00" height="9.38" fill="#e8641f" stroke="#7a3008" stroke-width="0.55"/>
<text x="535.80" y="769.84" font-size="8.4" text-anchor="start" font-style="italic" fill="#000">Muribaculum intestinale</text>
<rect x="463.50" y="771.43" width="71.00" height="9.38" fill="#e8641f" stroke="#7a3008" stroke-width="0.55"/>
<text x="535.80" y="779.22" font-size="8.4" text-anchor="start" font-style="italic" fill="#000">Bacteroides uniformis</text>
<rect x="464.30" y="780.82" width="70.20" height="9.38" fill="#e8641f" stroke="#7a3008" stroke-width="0.55"/>
<text x="535.80" y="788.61" font-size="8.4" text-anchor="start" font-style="italic" fill="#000">Parabacteroides merdae</text>
<line x1="464.60" y1="288.80" x2="464.60" y2="794.00" stroke="#111" stroke-width="0.9" stroke-dasharray="4 3.2"/>
<line x1="426.10" y1="790.40" x2="534.50" y2="790.40" stroke="#333" stroke-width="0.8"/>
<line x1="534.45" y1="790.40" x2="534.45" y2="794.00" stroke="#333" stroke-width="0.7"/>
<line x1="524.60" y1="790.40" x2="524.60" y2="794.00" stroke="#333" stroke-width="0.7"/>
<line x1="514.74" y1="790.40" x2="514.74" y2="794.00" stroke="#333" stroke-width="0.7"/>
<line x1="504.89" y1="790.40" x2="504.89" y2="794.00" stroke="#333" stroke-width="0.7"/>
<line x1="495.03" y1="790.40" x2="495.03" y2="794.00" stroke="#333" stroke-width="0.7"/>
<line x1="485.18" y1="790.40" x2="485.18" y2="794.00" stroke="#333" stroke-width="0.7"/>
<line x1="475.32" y1="790.40" x2="475.32" y2="794.00" stroke="#333" stroke-width="0.7"/>
<line x1="465.46" y1="790.40" x2="465.46" y2="794.00" stroke="#333" stroke-width="0.7"/>
<line x1="455.61" y1="790.40" x2="455.61" y2="794.00" stroke="#333" stroke-width="0.7"/>
<line x1="445.75" y1="790.40" x2="445.75" y2="794.00" stroke="#333" stroke-width="0.7"/>
<line x1="435.90" y1="790.40" x2="435.90" y2="794.00" stroke="#333" stroke-width="0.7"/>
<line x1="426.04" y1="790.40" x2="426.04" y2="794.00" stroke="#333" stroke-width="0.7"/>
<text x="534.45" y="802.30" font-size="8.6" text-anchor="middle" fill="#000">0</text>
<text x="514.74" y="802.30" font-size="8.6" text-anchor="middle" fill="#000">1</text>
<text x="495.03" y="802.30" font-size="8.6" text-anchor="middle" fill="#000">2</text>
<text x="475.32" y="802.30" font-size="8.6" text-anchor="middle" fill="#000">3</text>
<text x="455.61" y="802.30" font-size="8.6" text-anchor="middle" fill="#000">4</text>
<text x="435.90" y="802.30" font-size="8.6" text-anchor="middle" fill="#000">5</text>
<text x="468.80" y="816.00" font-size="11.95" text-anchor="start" fill="#000">LDA SCORE (log10)</text>
<rect x="639.30" y="292.30" width="6.00" height="5.80" fill="#ee2424" stroke="none" stroke-width="1"/>
<text x="649.30" y="298.10" font-size="8.2" text-anchor="start" fill="#000">CON</text>
<rect x="639.30" y="301.10" width="6.00" height="5.80" fill="#338740" stroke="none" stroke-width="1"/>
<text x="649.30" y="306.90" font-size="8.2" text-anchor="start" fill="#000">RAP-A</text>
<rect x="639.30" y="310.60" width="6.00" height="5.80" fill="#e8641f" stroke="none" stroke-width="1"/>
<text x="649.30" y="316.40" font-size="8.2" text-anchor="start" fill="#000">RAP-R</text>
<text x="1.10" y="595.00" font-size="22.5" text-anchor="start" fill="#000">E</text>
<rect x="43.10" y="592.90" width="7.60" height="10.33" fill="#3c8a3c" stroke="none" stroke-width="1"/>
<rect x="51.50" y="592.90" width="45.45" height="10.33" fill="#e8b4b4" stroke="none" stroke-width="1"/>
<rect x="96.90" y="592.90" width="46.05" height="10.33" fill="#d85450" stroke="none" stroke-width="1"/>
<rect x="142.90" y="592.90" width="46.15" height="10.33" fill="#d6453a" stroke="none" stroke-width="1"/>
<text x="193.40" y="600.04" font-size="8.4" text-anchor="start" font-style="italic" fill="#000">Bacteroides-g-unc</text>
<rect x="43.10" y="603.17" width="7.60" height="10.33" fill="#d9463a" stroke="none" stroke-width="1"/>
<rect x="51.50" y="603.17" width="45.45" height="10.33" fill="#d6504c" stroke="none" stroke-width="1"/>
<rect x="96.90" y="603.17" width="46.05" height="10.33" fill="#e2a3a0" stroke="none" stroke-width="1"/>
<rect x="142.90" y="603.17" width="46.15" height="10.33" fill="#e2a0a3" stroke="none" stroke-width="1"/>
<text x="193.40" y="610.31" font-size="8.4" text-anchor="start" font-style="italic" fill="#000">Faecalibacterium prausnitzii</text>
<rect x="43.10" y="613.45" width="7.60" height="10.33" fill="#4383bd" stroke="none" stroke-width="1"/>
<rect x="51.50" y="613.45" width="45.45" height="10.33" fill="#d6605d" stroke="none" stroke-width="1"/>
<rect x="96.90" y="613.45" width="46.05" height="10.33" fill="#de8886" stroke="none" stroke-width="1"/>
<rect x="142.90" y="613.45" width="46.15" height="10.33" fill="#e5b0b0" stroke="none" stroke-width="1"/>
<text x="193.40" y="620.59" font-size="8.4" text-anchor="start" font-style="italic" fill="#000">Clostridiales-o-unc</text>
<rect x="43.10" y="623.73" width="7.60" height="10.33" fill="#e09030" stroke="none" stroke-width="1"/>
<rect x="51.50" y="623.73" width="45.45" height="10.33" fill="#bcbcdc" stroke="none" stroke-width="1"/>
<rect x="96.90" y="623.73" width="46.05" height="10.33" fill="#ecc4c4" stroke="none" stroke-width="1"/>
<rect x="142.90" y="623.73" width="46.15" height="10.33" fill="#da827e" stroke="none" stroke-width="1"/>
<text x="193.40" y="630.86" font-size="8.4" text-anchor="start" font-style="italic" fill="#000">Phocaeicola vulgatus</text>
<rect x="43.10" y="634.00" width="7.60" height="10.33" fill="#757575" stroke="none" stroke-width="1"/>
<rect x="51.50" y="634.00" width="45.45" height="10.33" fill="#f5ebe9" stroke="none" stroke-width="1"/>
<rect x="96.90" y="634.00" width="46.05" height="10.33" fill="#e2a0a3" stroke="none" stroke-width="1"/>
<rect x="142.90" y="634.00" width="46.15" height="10.33" fill="#e5b0b0" stroke="none" stroke-width="1"/>
<text x="193.40" y="641.14" font-size="8.4" text-anchor="start" font-style="italic" fill="#000">Bacteria-d-unc</text>
<rect x="43.10" y="644.27" width="7.60" height="10.33" fill="#cc3060" stroke="none" stroke-width="1"/>
<rect x="51.50" y="644.27" width="45.45" height="10.33" fill="#e0a09e" stroke="none" stroke-width="1"/>
<rect x="96.90" y="644.27" width="46.05" height="10.33" fill="#e2a6a6" stroke="none" stroke-width="1"/>
<rect x="142.90" y="644.27" width="46.15" height="10.33" fill="#cdcae4" stroke="none" stroke-width="1"/>
<text x="193.40" y="651.41" font-size="8.4" text-anchor="start" font-style="italic" fill="#000">Ruminococcaceae bacterium</text>
<rect x="43.10" y="654.55" width="7.60" height="10.33" fill="#523c94" stroke="none" stroke-width="1"/>
<rect x="51.50" y="654.55" width="45.45" height="10.33" fill="#e8e9f5" stroke="none" stroke-width="1"/>
<rect x="96.90" y="654.55" width="46.05" height="10.33" fill="#df9091" stroke="none" stroke-width="1"/>
<rect x="142.90" y="654.55" width="46.15" height="10.33" fill="#ebc8c8" stroke="none" stroke-width="1"/>
<text x="193.40" y="661.69" font-size="8.4" text-anchor="start" font-style="italic" fill="#000">Escherichia coli</text>
<rect x="43.10" y="664.82" width="7.60" height="10.33" fill="#d9463a" stroke="none" stroke-width="1"/>
<rect x="51.50" y="664.82" width="45.45" height="10.33" fill="#d9817e" stroke="none" stroke-width="1"/>
<rect x="96.90" y="664.82" width="46.05" height="10.33" fill="#d8d9ea" stroke="none" stroke-width="1"/>
<rect x="142.90" y="664.82" width="46.15" height="10.33" fill="#eceef6" stroke="none" stroke-width="1"/>
<text x="193.40" y="671.96" font-size="8.4" text-anchor="start" font-style="italic" fill="#000">Faecalibacterium-g-unc</text>
<rect x="43.10" y="675.10" width="7.60" height="10.33" fill="#82bc4e" stroke="none" stroke-width="1"/>
<rect x="51.50" y="675.10" width="45.45" height="10.33" fill="#9fa0cf" stroke="none" stroke-width="1"/>
<rect x="96.90" y="675.10" width="46.05" height="10.33" fill="#ebc5c8" stroke="none" stroke-width="1"/>
<rect x="142.90" y="675.10" width="46.15" height="10.33" fill="#de8e90" stroke="none" stroke-width="1"/>
<text x="193.40" y="682.24" font-size="8.4" text-anchor="start" font-style="italic" fill="#000">Bacteroidales-o-unc</text>
<rect x="43.10" y="685.38" width="7.60" height="10.33" fill="#4a8ac4" stroke="none" stroke-width="1"/>
<rect x="51.50" y="685.38" width="45.45" height="10.33" fill="#e09799" stroke="none" stroke-width="1"/>
<rect x="96.90" y="685.38" width="46.05" height="10.33" fill="#faf8f6" stroke="none" stroke-width="1"/>
<rect x="142.90" y="685.38" width="46.15" height="10.33" fill="#faf7f6" stroke="none" stroke-width="1"/>
<text x="193.40" y="692.51" font-size="8.4" text-anchor="start" font-style="italic" fill="#000">Lachnospiraceae-f-unc</text>
<rect x="43.10" y="695.65" width="7.60" height="10.33" fill="#bf2e2e" stroke="none" stroke-width="1"/>
<rect x="51.50" y="695.65" width="45.45" height="10.33" fill="#9fa0cf" stroke="none" stroke-width="1"/>
<rect x="96.90" y="695.65" width="46.05" height="10.33" fill="#df9093" stroke="none" stroke-width="1"/>
<rect x="142.90" y="695.65" width="46.15" height="10.33" fill="#f2e4e3" stroke="none" stroke-width="1"/>
<text x="193.40" y="702.79" font-size="8.4" text-anchor="start" font-style="italic" fill="#000">Enterobacteriaceae-f-unc</text>
<rect x="43.10" y="705.92" width="7.60" height="10.33" fill="#e0b838" stroke="none" stroke-width="1"/>
<rect x="51.50" y="705.92" width="45.45" height="10.33" fill="#e4a8a8" stroke="none" stroke-width="1"/>
<rect x="96.90" y="705.92" width="46.05" height="10.33" fill="#f0dcdc" stroke="none" stroke-width="1"/>
<rect x="142.90" y="705.92" width="46.15" height="10.33" fill="#f6eeee" stroke="none" stroke-width="1"/>
<text x="193.40" y="713.06" font-size="8.4" text-anchor="start" font-style="italic" fill="#000">Firmicutes-p-unc</text>
<rect x="43.10" y="716.20" width="7.60" height="10.33" fill="#3f8c3f" stroke="none" stroke-width="1"/>
<rect x="51.50" y="716.20" width="45.45" height="10.33" fill="#6168a8" stroke="none" stroke-width="1"/>
<rect x="96.90" y="716.20" width="46.05" height="10.33" fill="#de8884" stroke="none" stroke-width="1"/>
<rect x="142.90" y="716.20" width="46.15" height="10.33" fill="#e6e7f3" stroke="none" stroke-width="1"/>
<text x="193.40" y="723.34" font-size="8.4" text-anchor="start" font-style="italic" fill="#000">Bacteroides thetaiotaomicron</text>
<rect x="43.10" y="726.48" width="7.60" height="10.33" fill="#bcbcbc" stroke="none" stroke-width="1"/>
<rect x="51.50" y="726.48" width="45.45" height="10.33" fill="#e2a0a0" stroke="none" stroke-width="1"/>
<rect x="96.90" y="726.48" width="46.05" height="10.33" fill="#f5ebe9" stroke="none" stroke-width="1"/>
<rect x="142.90" y="726.48" width="46.15" height="10.33" fill="#dfe0ef" stroke="none" stroke-width="1"/>
<text x="193.40" y="733.61" font-size="8.4" text-anchor="start" font-style="italic" fill="#000">Ruminococcus-g-unc</text>
<rect x="43.10" y="736.75" width="7.60" height="10.33" fill="#e8b4cc" stroke="none" stroke-width="1"/>
<rect x="51.50" y="736.75" width="45.45" height="10.33" fill="#e4aaaa" stroke="none" stroke-width="1"/>
<rect x="96.90" y="736.75" width="46.05" height="10.33" fill="#ebc4c4" stroke="none" stroke-width="1"/>
<rect x="142.90" y="736.75" width="46.15" height="10.33" fill="#d2d2e8" stroke="none" stroke-width="1"/>
<text x="193.40" y="743.89" font-size="8.4" text-anchor="start" font-style="italic" fill="#000">Ruminococcus gnavus</text>
<rect x="43.10" y="747.02" width="7.60" height="10.33" fill="#4a8ac4" stroke="none" stroke-width="1"/>
<rect x="51.50" y="747.02" width="45.45" height="10.33" fill="#e09a9a" stroke="none" stroke-width="1"/>
<rect x="96.90" y="747.02" width="46.05" height="10.33" fill="#5d66a8" stroke="none" stroke-width="1"/>
<rect x="142.90" y="747.02" width="46.15" height="10.33" fill="#f2e6e4" stroke="none" stroke-width="1"/>
<text x="193.40" y="754.16" font-size="8.4" text-anchor="start" font-style="italic" fill="#000">Eubacterium rectale</text>
<rect x="43.10" y="757.30" width="7.60" height="10.33" fill="#3f8c3f" stroke="none" stroke-width="1"/>
<rect x="51.50" y="757.30" width="45.45" height="10.33" fill="#2f4a97" stroke="none" stroke-width="1"/>
<rect x="96.90" y="757.30" width="46.05" height="10.33" fill="#d4d5ea" stroke="none" stroke-width="1"/>
<rect x="142.90" y="757.30" width="46.15" height="10.33" fill="#de8a8a" stroke="none" stroke-width="1"/>
<text x="193.40" y="764.44" font-size="8.4" text-anchor="start" font-style="italic" fill="#000">Bacteroides stercoris</text>
<rect x="43.10" y="767.58" width="7.60" height="10.33" fill="#4383bd" stroke="none" stroke-width="1"/>
<rect x="51.50" y="767.58" width="45.45" height="10.33" fill="#efd3d3" stroke="none" stroke-width="1"/>
<rect x="96.90" y="767.58" width="46.05" height="10.33" fill="#f0d2d2" stroke="none" stroke-width="1"/>
<rect x="142.90" y="767.58" width="46.15" height="10.33" fill="#fbfafa" stroke="none" stroke-width="1"/>
<text x="193.40" y="774.71" font-size="8.4" text-anchor="start" font-style="italic" fill="#000">Clostridiales bacterium</text>
<rect x="43.10" y="777.85" width="7.60" height="10.33" fill="#b9d645" stroke="none" stroke-width="1"/>
<rect x="51.50" y="777.85" width="45.45" height="10.33" fill="#ebc0c0" stroke="none" stroke-width="1"/>
<rect x="96.90" y="777.85" width="46.05" height="10.33" fill="#9594c6" stroke="none" stroke-width="1"/>
<rect x="142.90" y="777.85" width="46.15" height="10.33" fill="#efd3d3" stroke="none" stroke-width="1"/>
<text x="193.40" y="784.99" font-size="8.4" text-anchor="start" font-style="italic" fill="#000">Clostridium-g-unc</text>
<rect x="43.10" y="788.12" width="7.60" height="10.33" fill="#3f9c86" stroke="none" stroke-width="1"/>
<rect x="51.50" y="788.12" width="45.45" height="10.33" fill="#4a55a0" stroke="none" stroke-width="1"/>
<rect x="96.90" y="788.12" width="46.05" height="10.33" fill="#2e4a94" stroke="none" stroke-width="1"/>
<rect x="142.90" y="788.12" width="46.15" height="10.33" fill="#df9194" stroke="none" stroke-width="1"/>
<text x="193.40" y="795.26" font-size="8.4" text-anchor="start" font-style="italic" fill="#000">Megamonas funiformis</text>
<text x="71.40" y="807.60" font-size="8.2" text-anchor="middle" fill="#000">CON</text>
<text x="119.50" y="807.60" font-size="8.2" text-anchor="middle" fill="#000">RAP-A</text>
<text x="165.40" y="807.60" font-size="8.2" text-anchor="middle" fill="#000">RAP-R</text>
<text x="298.10" y="598.00" font-size="9.5" text-anchor="start" fill="#000">Abundance</text>
<defs><linearGradient id="cb" x1="0" y1="0" x2="0" y2="1"><stop offset="0" stop-color="#d7433b"/><stop offset=".25" stop-color="#e29c8c"/><stop offset=".42" stop-color="#f2d8d0"/><stop offset=".5" stop-color="#faf6f4"/><stop offset=".6" stop-color="#e0dff0"/><stop offset=".75" stop-color="#a2a5d1"/><stop offset="1" stop-color="#2c4896"/></linearGradient></defs>
<rect x="299.00" y="600.40" width="11.90" height="53.40" fill="url(#cb)" stroke="none" stroke-width="1"/>
<line x1="310.90" y1="602.40" x2="313.70" y2="602.40" stroke="#222" stroke-width="0.7"/>
<text x="315.10" y="606.80" font-size="8.4" text-anchor="start" fill="#000">5.0</text>
<line x1="310.90" y1="614.20" x2="313.70" y2="614.20" stroke="#222" stroke-width="0.7"/>
<text x="315.10" y="618.60" font-size="8.4" text-anchor="start" fill="#000">4.5</text>
<line x1="310.90" y1="626.00" x2="313.70" y2="626.00" stroke="#222" stroke-width="0.7"/>
<text x="315.10" y="630.40" font-size="8.4" text-anchor="start" fill="#000">4.0</text>
<line x1="310.90" y1="637.80" x2="313.70" y2="637.80" stroke="#222" stroke-width="0.7"/>
<text x="315.10" y="642.20" font-size="8.4" text-anchor="start" fill="#000">3.5</text>
<line x1="310.90" y1="649.60" x2="313.70" y2="649.60" stroke="#222" stroke-width="0.7"/>
<text x="315.10" y="654.00" font-size="8.4" text-anchor="start" fill="#000">3.0</text>
<text x="298.40" y="674.70" font-size="9.25" text-anchor="start" fill="#000">Taxon group</text>
<rect x="299.20" y="678.10" width="11.60" height="5.80" fill="#3c8a3c" stroke="none" stroke-width="1"/>
<text x="314.00" y="683.40" font-size="8.4" text-anchor="start" font-style="italic" fill="#000">g-Bacteroides</text>
<rect x="299.20" y="686.58" width="11.60" height="5.80" fill="#e09030" stroke="none" stroke-width="1"/>
<text x="314.00" y="691.88" font-size="8.4" text-anchor="start" font-style="italic" fill="#000">g-Phocaeicola</text>
<rect x="299.20" y="695.06" width="11.60" height="5.80" fill="#523c94" stroke="none" stroke-width="1"/>
<text x="314.00" y="700.36" font-size="8.4" text-anchor="start" font-style="italic" fill="#000">g-Escherichia</text>
<rect x="299.20" y="703.54" width="11.60" height="5.80" fill="#707070" stroke="none" stroke-width="1"/>
<text x="314.00" y="708.84" font-size="8.4" text-anchor="start" font-style="italic" fill="#000">g-Bacteria-d-unc</text>
<rect x="299.20" y="712.02" width="11.60" height="5.80" fill="#e8b4d0" stroke="none" stroke-width="1"/>
<text x="314.00" y="717.32" font-size="8.4" text-anchor="start" font-style="italic" fill="#000">g-Mediterraneibacter</text>
<rect x="299.20" y="720.50" width="11.60" height="5.80" fill="#b9d645" stroke="none" stroke-width="1"/>
<text x="314.00" y="725.80" font-size="8.4" text-anchor="start" font-style="italic" fill="#000">g-Clostridium</text>
<rect x="299.20" y="728.98" width="11.60" height="5.80" fill="#3f9c86" stroke="none" stroke-width="1"/>
<text x="314.00" y="734.28" font-size="8.4" text-anchor="start" font-style="italic" fill="#000">g-Megamonas</text>
<rect x="299.20" y="737.46" width="11.60" height="5.80" fill="#bf2e2e" stroke="none" stroke-width="1"/>
<text x="314.00" y="742.76" font-size="8.4" text-anchor="start" font-style="italic" fill="#000">g-Enterobacteriaceae-f-unc</text>
<rect x="299.20" y="745.94" width="11.60" height="5.80" fill="#d9463a" stroke="none" stroke-width="1"/>
<text x="313.00" y="751.24" font-size="8.4" text-anchor="start" font-style="italic" fill="#000">g-Faecalibacterium</text>
<rect x="299.20" y="754.42" width="11.60" height="5.80" fill="#82bc4e" stroke="none" stroke-width="1"/>
<text x="313.00" y="759.72" font-size="8.4" text-anchor="start" font-style="italic" fill="#000">g-Bacteroidales-o-unc</text>
<rect x="299.20" y="762.90" width="11.60" height="5.80" fill="#4383bd" stroke="none" stroke-width="1"/>
<text x="313.00" y="768.20" font-size="8.4" text-anchor="start" font-style="italic" fill="#000">g-Clostridiales-o-unc</text>
<rect x="299.20" y="771.38" width="11.60" height="5.80" fill="#cc3060" stroke="none" stroke-width="1"/>
<text x="313.00" y="776.68" font-size="8.4" text-anchor="start" font-style="italic" fill="#000">g-Ruminococcaceae-f-unc</text>
<rect x="299.20" y="779.86" width="11.60" height="5.80" fill="#4a8ac4" stroke="none" stroke-width="1"/>
<text x="313.00" y="785.16" font-size="8.4" text-anchor="start" font-style="italic" fill="#000">g-Lachnospiraceae-f-unc</text>
<rect x="299.20" y="788.34" width="11.60" height="5.80" fill="#e0b838" stroke="none" stroke-width="1"/>
<text x="313.00" y="793.64" font-size="8.4" text-anchor="start" font-style="italic" fill="#000">g-Firmicutes-p-unc</text>
<rect x="299.20" y="796.82" width="11.60" height="5.80" fill="#c0c0c0" stroke="none" stroke-width="1"/>
<text x="313.00" y="802.12" font-size="8.4" text-anchor="start" font-style="italic" fill="#000">g-Ruminococcus</text>
<text x="1.20" y="840.90" font-size="22.5" text-anchor="start" fill="#000">F</text>
<text x="35.50" y="850.20" font-size="11.4" text-anchor="start" font-style="italic" fill="#000" textLength="132.4" lengthAdjust="spacingAndGlyphs">Faecalibacterium prausnitzii</text>
<rect x="64.60" y="892.20" width="26.90" height="91.50" fill="#f9dada" stroke="#9a9a9a" stroke-width="0.8"/>
<rect x="106.20" y="906.80" width="26.90" height="76.90" fill="#d5edc8" stroke="#9a9a9a" stroke-width="0.8"/>
<rect x="147.30" y="909.00" width="27.20" height="74.70" fill="#c8ddf3" stroke="#9a9a9a" stroke-width="0.8"/>
<line x1="78.40" y1="890.20" x2="78.40" y2="894.00" stroke="#555" stroke-width="0.7"/>
<line x1="75.10" y1="890.20" x2="81.70" y2="890.20" stroke="#555" stroke-width="0.7"/>
<line x1="75.10" y1="894.00" x2="81.70" y2="894.00" stroke="#555" stroke-width="0.7"/>
<line x1="119.70" y1="893.50" x2="119.70" y2="919.40" stroke="#555" stroke-width="0.7"/>
<line x1="116.40" y1="893.50" x2="123.00" y2="893.50" stroke="#555" stroke-width="0.7"/>
<line x1="116.40" y1="919.40" x2="123.00" y2="919.40" stroke="#555" stroke-width="0.7"/>
<line x1="161.30" y1="894.40" x2="161.30" y2="923.10" stroke="#555" stroke-width="0.7"/>
<line x1="158.00" y1="894.40" x2="164.60" y2="894.40" stroke="#555" stroke-width="0.7"/>
<line x1="158.00" y1="923.10" x2="164.60" y2="923.10" stroke="#555" stroke-width="0.7"/>
<circle cx="67.1" cy="892.4" r="1.7" fill="#ee2222"/>
<circle cx="71.4" cy="890.0" r="1.7" fill="#ee2222"/>
<circle cx="71.4" cy="892.4" r="1.7" fill="#ee2222"/>
<circle cx="76.1" cy="890.0" r="1.7" fill="#ee2222"/>
<circle cx="76.1" cy="892.6" r="1.7" fill="#ee2222"/>
<circle cx="80.5" cy="890.6" r="1.7" fill="#ee2222"/>
<circle cx="80.5" cy="892.4" r="1.7" fill="#ee2222"/>
<circle cx="85.2" cy="891.4" r="1.7" fill="#ee2222"/>
<circle cx="85.2" cy="893.3" r="1.7" fill="#ee2222"/>
<circle cx="89.8" cy="896.5" r="1.7" fill="#ee2222"/>
<circle cx="123.3" cy="890.7" r="1.65" fill="#23873a"/>
<circle cx="116.4" cy="895.7" r="1.65" fill="#23873a"/>
<circle cx="109.5" cy="897.7" r="1.65" fill="#23873a"/>
<circle cx="123.3" cy="896.8" r="1.65" fill="#23873a"/>
<circle cx="116.4" cy="899.4" r="1.65" fill="#23873a"/>
<circle cx="130.1" cy="901.6" r="1.65" fill="#23873a"/>
<circle cx="130.1" cy="904.9" r="1.65" fill="#23873a"/>
<circle cx="109.5" cy="906.2" r="1.65" fill="#23873a"/>
<circle cx="116.4" cy="907.8" r="1.65" fill="#23873a"/>
<circle cx="123.3" cy="906.0" r="1.65" fill="#23873a"/>
<circle cx="119.7" cy="914.1" r="1.65" fill="#23873a"/>
<circle cx="119.7" cy="926.9" r="1.65" fill="#23873a"/>
<circle cx="119.7" cy="935.8" r="1.65" fill="#23873a"/>
<circle cx="161.1" cy="893.8" r="1.65" fill="#2a7d93"/>
<circle cx="151.9" cy="896.8" r="1.65" fill="#2a7d93"/>
<circle cx="161.1" cy="897.3" r="1.65" fill="#2a7d93"/>
<circle cx="170.6" cy="900.3" r="1.65" fill="#2a7d93"/>
<circle cx="170.6" cy="902.3" r="1.65" fill="#2a7d93"/>
<circle cx="151.9" cy="906.2" r="1.65" fill="#2a7d93"/>
<circle cx="161.1" cy="907.3" r="1.65" fill="#2a7d93"/>
<circle cx="156.5" cy="923.1" r="1.65" fill="#2a7d93"/>
<circle cx="166.0" cy="924.3" r="1.65" fill="#2a7d93"/>
<circle cx="161.1" cy="936.5" r="1.65" fill="#2a7d93"/>
<line x1="51.40" y1="867.60" x2="51.40" y2="984.10" stroke="#444" stroke-width="0.9"/>
<line x1="51.40" y1="983.70" x2="176.20" y2="983.70" stroke="#444" stroke-width="0.9"/>
<line x1="51.40" y1="983.70" x2="56.20" y2="983.70" stroke="#444" stroke-width="0.9"/>
<text x="48.00" y="987.20" font-size="12.2" text-anchor="end" fill="#000">0</text>
<line x1="51.40" y1="954.78" x2="56.20" y2="954.78" stroke="#444" stroke-width="0.9"/>
<text x="48.00" y="958.88" font-size="12.2" text-anchor="end" fill="#000">2</text>
<line x1="51.40" y1="925.85" x2="56.20" y2="925.85" stroke="#444" stroke-width="0.9"/>
<text x="48.00" y="929.95" font-size="12.2" text-anchor="end" fill="#000">4</text>
<line x1="51.40" y1="896.92" x2="56.20" y2="896.92" stroke="#444" stroke-width="0.9"/>
<text x="48.00" y="901.02" font-size="12.2" text-anchor="end" fill="#000">6</text>
<line x1="51.40" y1="868.00" x2="56.20" y2="868.00" stroke="#444" stroke-width="0.9"/>
<text x="48.00" y="872.10" font-size="12.2" text-anchor="end" fill="#000">8</text>
<line x1="78.00" y1="983.70" x2="78.00" y2="987.10" stroke="#444" stroke-width="0.8"/>
<line x1="119.80" y1="983.70" x2="119.80" y2="987.10" stroke="#444" stroke-width="0.8"/>
<line x1="160.90" y1="983.70" x2="160.90" y2="987.10" stroke="#444" stroke-width="0.8"/>
<text transform="translate(33.90,924.00) rotate(-90)" font-size="12.8" text-anchor="middle" fill="#000" textLength="106" lengthAdjust="spacingAndGlyphs">Log<tspan dy="2.0">10</tspan><tspan dy="-2.0"> (abundance)</tspan></text>
<line x1="78.50" y1="868.90" x2="161.40" y2="868.90" stroke="#555" stroke-width="0.8"/>
<line x1="78.50" y1="867.20" x2="78.50" y2="870.60" stroke="#555" stroke-width="0.8"/>
<line x1="161.40" y1="867.20" x2="161.40" y2="870.60" stroke="#555" stroke-width="0.8"/>
<text x="119.95" y="870.20" font-size="11.6" text-anchor="middle" fill="#111">**</text>
<line x1="78.50" y1="881.20" x2="119.80" y2="881.20" stroke="#555" stroke-width="0.8"/>
<line x1="78.50" y1="879.50" x2="78.50" y2="882.90" stroke="#555" stroke-width="0.8"/>
<line x1="119.80" y1="879.50" x2="119.80" y2="882.90" stroke="#555" stroke-width="0.8"/>
<text x="99.15" y="882.50" font-size="11.6" text-anchor="middle" fill="#111">***</text>
<text transform="translate(82.20,989.00) rotate(-45)" font-size="10.8" text-anchor="end" fill="#000">CON</text>
<text transform="translate(123.80,989.00) rotate(-45)" font-size="10.8" text-anchor="end" fill="#000">RAP-A</text>
<text transform="translate(165.80,989.00) rotate(-45)" font-size="10.8" text-anchor="end" fill="#000">RAP-R</text>
<text x="181.60" y="842.00" font-size="22.5" text-anchor="start" fill="#000">G</text>
<rect x="233.30" y="897.70" width="22.40" height="88.60" fill="#d6d6d6" stroke="#9a9a9a" stroke-width="0.8"/>
<rect x="266.80" y="905.20" width="22.90" height="81.10" fill="#e9e9c6" stroke="#9a9a9a" stroke-width="0.8"/>
<rect x="300.50" y="921.60" width="22.10" height="64.70" fill="#f8dcdd" stroke="#9a9a9a" stroke-width="0.8"/>
<line x1="244.50" y1="893.90" x2="244.50" y2="902.30" stroke="#555" stroke-width="0.7"/>
<line x1="241.50" y1="893.90" x2="247.50" y2="893.90" stroke="#555" stroke-width="0.7"/>
<line x1="241.50" y1="902.30" x2="247.50" y2="902.30" stroke="#555" stroke-width="0.7"/>
<line x1="278.40" y1="902.30" x2="278.40" y2="907.40" stroke="#555" stroke-width="0.7"/>
<line x1="275.40" y1="902.30" x2="281.40" y2="902.30" stroke="#555" stroke-width="0.7"/>
<line x1="275.40" y1="907.40" x2="281.40" y2="907.40" stroke="#555" stroke-width="0.7"/>
<line x1="311.90" y1="908.30" x2="311.90" y2="934.70" stroke="#555" stroke-width="0.7"/>
<line x1="308.90" y1="908.30" x2="314.90" y2="908.30" stroke="#555" stroke-width="0.7"/>
<line x1="308.90" y1="934.70" x2="314.90" y2="934.70" stroke="#555" stroke-width="0.7"/>
<circle cx="236.4" cy="896.2" r="1.75" fill="#0a0a0a"/>
<circle cx="241.6" cy="897.0" r="1.75" fill="#0a0a0a"/>
<circle cx="244.4" cy="890.9" r="1.75" fill="#0a0a0a"/>
<circle cx="247.4" cy="897.4" r="1.75" fill="#0a0a0a"/>
<circle cx="252.7" cy="899.7" r="1.75" fill="#0a0a0a"/>
<circle cx="244.4" cy="905.8" r="1.75" fill="#0a0a0a"/>
<circle cx="270.7" cy="902.0" r="1.75" fill="#a86a20"/>
<circle cx="285.6" cy="906.3" r="1.75" fill="#a86a20"/>
<circle cx="311.9" cy="908.1" r="1.75" fill="#ee2222"/>
<circle cx="311.9" cy="914.6" r="1.75" fill="#ee2222"/>
<circle cx="311.9" cy="927.4" r="1.75" fill="#ee2222"/>
<circle cx="311.9" cy="936.8" r="1.75" fill="#ee2222"/>
<path d="M276.5,907.6 L280.3,907.6 L278.4,904.3 Z" fill="#8a5a1c"/>
<line x1="222.20" y1="867.30" x2="222.20" y2="986.30" stroke="#555" stroke-width="0.9"/>
<line x1="221.80" y1="986.30" x2="324.20" y2="986.30" stroke="#555" stroke-width="0.9"/>
<line x1="222.00" y1="986.30" x2="227.00" y2="986.30" stroke="#555" stroke-width="0.9"/>
<text x="220.40" y="988.00" font-size="12.2" text-anchor="end" fill="#000">0</text>
<line x1="222.00" y1="956.65" x2="227.00" y2="956.65" stroke="#555" stroke-width="0.9"/>
<text x="220.40" y="960.75" font-size="12.2" text-anchor="end" fill="#000">2</text>
<line x1="222.00" y1="927.00" x2="227.00" y2="927.00" stroke="#555" stroke-width="0.9"/>
<text x="220.40" y="931.10" font-size="12.2" text-anchor="end" fill="#000">4</text>
<line x1="222.00" y1="897.35" x2="227.00" y2="897.35" stroke="#555" stroke-width="0.9"/>
<text x="220.40" y="901.45" font-size="12.2" text-anchor="end" fill="#000">6</text>
<line x1="222.00" y1="867.70" x2="227.00" y2="867.70" stroke="#555" stroke-width="0.9"/>
<text x="220.40" y="871.80" font-size="12.2" text-anchor="end" fill="#000">8</text>
<line x1="244.50" y1="986.30" x2="244.50" y2="989.90" stroke="#555" stroke-width="0.8"/>
<line x1="278.30" y1="986.30" x2="278.30" y2="989.90" stroke="#555" stroke-width="0.8"/>
<line x1="311.80" y1="986.30" x2="311.80" y2="989.90" stroke="#555" stroke-width="0.8"/>
<text transform="translate(205.50,929.90) rotate(-90)" font-size="12.8" text-anchor="middle" fill="#000" textLength="140.2" lengthAdjust="spacingAndGlyphs">Abundance of <tspan font-style="italic">F. prausnitzii</tspan></text>
<line x1="244.50" y1="870.40" x2="311.80" y2="870.40" stroke="#555" stroke-width="0.8"/>
<line x1="244.50" y1="868.70" x2="244.50" y2="872.10" stroke="#555" stroke-width="0.8"/>
<line x1="311.80" y1="868.70" x2="311.80" y2="872.10" stroke="#555" stroke-width="0.8"/>
<text x="278.15" y="871.70" font-size="11.6" text-anchor="middle" fill="#111">**</text>
<line x1="244.50" y1="879.10" x2="278.30" y2="879.10" stroke="#555" stroke-width="0.8"/>
<line x1="244.50" y1="877.40" x2="244.50" y2="880.80" stroke="#555" stroke-width="0.8"/>
<line x1="278.30" y1="877.40" x2="278.30" y2="880.80" stroke="#555" stroke-width="0.8"/>
<text x="261.40" y="880.40" font-size="11.6" text-anchor="middle" fill="#111">*</text>
<line x1="278.30" y1="884.60" x2="311.80" y2="884.60" stroke="#555" stroke-width="0.8"/>
<line x1="278.30" y1="882.90" x2="278.30" y2="886.30" stroke="#555" stroke-width="0.8"/>
<line x1="311.80" y1="882.90" x2="311.80" y2="886.30" stroke="#555" stroke-width="0.8"/>
<text x="295.05" y="885.90" font-size="11.6" text-anchor="middle" fill="#111">*</text>
<text transform="translate(248.60,991.60) rotate(-45)" font-size="10.8" text-anchor="end" fill="#000">MAP</text>
<text transform="translate(282.60,991.60) rotate(-45)" font-size="10.8" text-anchor="end" fill="#000">MSAP</text>
<text transform="translate(315.60,991.60) rotate(-45)" font-size="10.8" text-anchor="end" fill="#000">SAP</text>
<text x="341.40" y="841.60" font-size="22.5" text-anchor="start" fill="#000">H</text>
<text x="389.30" y="848.0" font-size="11.6" fill="#000" xml:space="preserve" textLength="100.6" lengthAdjust="spacingAndGlyphs">r <tspan fill="#8c8c8c">=</tspan> -0.718,  <tspan font-style="italic">p</tspan> <tspan fill="#8c8c8c">=</tspan> 0.008</text>
<rect x="372.40" y="856.20" width="131.90" height="119.00" fill="none" stroke="#5e5e5e" stroke-width="0.85"/>
<line x1="384.20" y1="975.20" x2="384.20" y2="971.80" stroke="#555" stroke-width="0.8"/>
<text x="384.20" y="987.00" font-size="11.7" text-anchor="middle" fill="#000">3</text>
<line x1="408.22" y1="975.20" x2="408.22" y2="971.80" stroke="#555" stroke-width="0.8"/>
<text x="408.22" y="987.00" font-size="11.7" text-anchor="middle" fill="#000">4</text>
<line x1="432.24" y1="975.20" x2="432.24" y2="971.80" stroke="#555" stroke-width="0.8"/>
<text x="432.24" y="987.00" font-size="11.7" text-anchor="middle" fill="#000">5</text>
<line x1="456.26" y1="975.20" x2="456.26" y2="971.80" stroke="#555" stroke-width="0.8"/>
<text x="456.26" y="987.00" font-size="11.7" text-anchor="middle" fill="#000">6</text>
<line x1="480.28" y1="975.20" x2="480.28" y2="971.80" stroke="#555" stroke-width="0.8"/>
<text x="480.28" y="987.00" font-size="11.7" text-anchor="middle" fill="#000">7</text>
<text x="504.30" y="987.00" font-size="11.7" text-anchor="middle" fill="#000">8</text>
<line x1="372.40" y1="965.50" x2="375.80" y2="965.50" stroke="#555" stroke-width="0.8"/>
<text x="370.20" y="969.40" font-size="11.7" text-anchor="end" fill="#000">0</text>
<line x1="372.40" y1="941.23" x2="375.80" y2="941.23" stroke="#555" stroke-width="0.8"/>
<text x="370.20" y="945.13" font-size="11.7" text-anchor="end" fill="#000">1</text>
<line x1="372.40" y1="916.96" x2="375.80" y2="916.96" stroke="#555" stroke-width="0.8"/>
<text x="370.20" y="920.86" font-size="11.7" text-anchor="end" fill="#000">2</text>
<line x1="372.40" y1="892.69" x2="375.80" y2="892.69" stroke="#555" stroke-width="0.8"/>
<text x="370.20" y="896.59" font-size="11.7" text-anchor="end" fill="#000">3</text>
<line x1="372.40" y1="868.42" x2="375.80" y2="868.42" stroke="#555" stroke-width="0.8"/>
<text x="370.20" y="872.32" font-size="11.7" text-anchor="end" fill="#000">4</text>
<circle cx="391.9" cy="892.7" r="2.75" fill="#e8601c"/>
<circle cx="406.9" cy="917.0" r="2.75" fill="#e8601c"/>
<circle cx="428.1" cy="892.7" r="2.75" fill="#e8601c"/>
<circle cx="438.4" cy="917.0" r="2.75" fill="#e8601c"/>
<circle cx="441.7" cy="917.0" r="2.75" fill="#e8601c"/>
<circle cx="455.0" cy="917.0" r="2.75" fill="#e8601c"/>
<circle cx="440.4" cy="941.2" r="2.75" fill="#e8601c"/>
<circle cx="442.7" cy="941.2" r="2.75" fill="#e8601c"/>
<circle cx="448.3" cy="941.2" r="2.75" fill="#e8601c"/>
<circle cx="452.4" cy="941.2" r="2.75" fill="#e8601c"/>
<circle cx="456.2" cy="941.2" r="2.75" fill="#e8601c"/>
<circle cx="458.0" cy="941.2" r="2.75" fill="#e8601c"/>
<circle cx="466.0" cy="941.2" r="2.75" fill="#e8601c"/>
<line x1="392.38" y1="894.49" x2="463.40" y2="942.02" stroke="#333" stroke-width="0.9"/>
<text x="358.40" y="1002.6" font-size="13.0" fill="#000" textLength="144.8" lengthAdjust="spacingAndGlyphs">Abundance of <tspan font-style="italic">F. prausnitzii</tspan></text>
<text transform="translate(358.20,913.30) rotate(-90)" font-size="13.4" text-anchor="middle" fill="#000" textLength="76.9" lengthAdjust="spacingAndGlyphs">Ranson Score</text>
<text x="511.40" y="841.60" font-size="22.5" text-anchor="start" fill="#000">I</text>
<text x="566.70" y="848.0" font-size="11.6" fill="#000" xml:space="preserve" textLength="100.6" lengthAdjust="spacingAndGlyphs">r <tspan fill="#8c8c8c">=</tspan> -0.764,  <tspan font-style="italic">p</tspan> <tspan fill="#8c8c8c">=</tspan> 0.003</text>
<rect x="549.60" y="856.40" width="131.60" height="118.80" fill="none" stroke="#5e5e5e" stroke-width="0.85"/>
<line x1="561.60" y1="975.20" x2="561.60" y2="971.80" stroke="#555" stroke-width="0.8"/>
<text x="561.60" y="987.00" font-size="11.7" text-anchor="middle" fill="#000">3</text>
<line x1="585.52" y1="975.20" x2="585.52" y2="971.80" stroke="#555" stroke-width="0.8"/>
<text x="585.52" y="987.00" font-size="11.7" text-anchor="middle" fill="#000">4</text>
<line x1="609.44" y1="975.20" x2="609.44" y2="971.80" stroke="#555" stroke-width="0.8"/>
<text x="609.44" y="987.00" font-size="11.7" text-anchor="middle" fill="#000">5</text>
<line x1="633.36" y1="975.20" x2="633.36" y2="971.80" stroke="#555" stroke-width="0.8"/>
<text x="633.36" y="987.00" font-size="11.7" text-anchor="middle" fill="#000">6</text>
<line x1="657.28" y1="975.20" x2="657.28" y2="971.80" stroke="#555" stroke-width="0.8"/>
<text x="657.28" y="987.00" font-size="11.7" text-anchor="middle" fill="#000">7</text>
<text x="681.20" y="987.00" font-size="11.7" text-anchor="middle" fill="#000">8</text>
<line x1="549.60" y1="967.00" x2="553.00" y2="967.00" stroke="#555" stroke-width="0.8"/>
<text x="547.40" y="970.90" font-size="11.7" text-anchor="end" fill="#000">0</text>
<line x1="549.60" y1="939.60" x2="553.00" y2="939.60" stroke="#555" stroke-width="0.8"/>
<text x="547.40" y="943.50" font-size="11.7" text-anchor="end" fill="#000">1</text>
<line x1="549.60" y1="912.20" x2="553.00" y2="912.20" stroke="#555" stroke-width="0.8"/>
<text x="547.40" y="916.10" font-size="11.7" text-anchor="end" fill="#000">2</text>
<line x1="549.60" y1="884.80" x2="553.00" y2="884.80" stroke="#555" stroke-width="0.8"/>
<text x="547.40" y="888.70" font-size="11.7" text-anchor="end" fill="#000">3</text>
<line x1="549.60" y1="857.40" x2="553.00" y2="857.40" stroke="#555" stroke-width="0.8"/>
<text x="547.40" y="861.30" font-size="11.7" text-anchor="end" fill="#000">4</text>
<circle cx="569.3" cy="884.3" r="2.75" fill="#e8601c"/>
<circle cx="584.1" cy="911.9" r="2.75" fill="#e8601c"/>
<circle cx="615.5" cy="911.9" r="2.75" fill="#e8601c"/>
<circle cx="605.3" cy="939.5" r="2.75" fill="#e8601c"/>
<circle cx="617.8" cy="939.5" r="2.75" fill="#e8601c"/>
<circle cx="619.4" cy="939.5" r="2.75" fill="#e8601c"/>
<circle cx="625.5" cy="939.5" r="2.75" fill="#e8601c"/>
<circle cx="632.1" cy="939.5" r="2.75" fill="#e8601c"/>
<circle cx="634.2" cy="939.5" r="2.75" fill="#e8601c"/>
<circle cx="619.4" cy="967.1" r="2.75" fill="#e8601c"/>
<circle cx="629.6" cy="967.1" r="2.75" fill="#e8601c"/>
<circle cx="635.2" cy="967.1" r="2.75" fill="#e8601c"/>
<circle cx="643.1" cy="967.1" r="2.75" fill="#e8601c"/>
<line x1="569.27" y1="891.43" x2="643.11" y2="965.01" stroke="#333" stroke-width="0.9"/>
<text x="533.50" y="1002.6" font-size="13.0" fill="#000" textLength="144.8" lengthAdjust="spacingAndGlyphs">Abundance of <tspan font-style="italic">F. prausnitzii</tspan></text>
<text transform="translate(532.60,914.20) rotate(-90)" font-size="13.4" text-anchor="middle" fill="#000" textLength="138.4" lengthAdjust="spacingAndGlyphs">Modified Marshall Score</text>
</svg></body></html>
